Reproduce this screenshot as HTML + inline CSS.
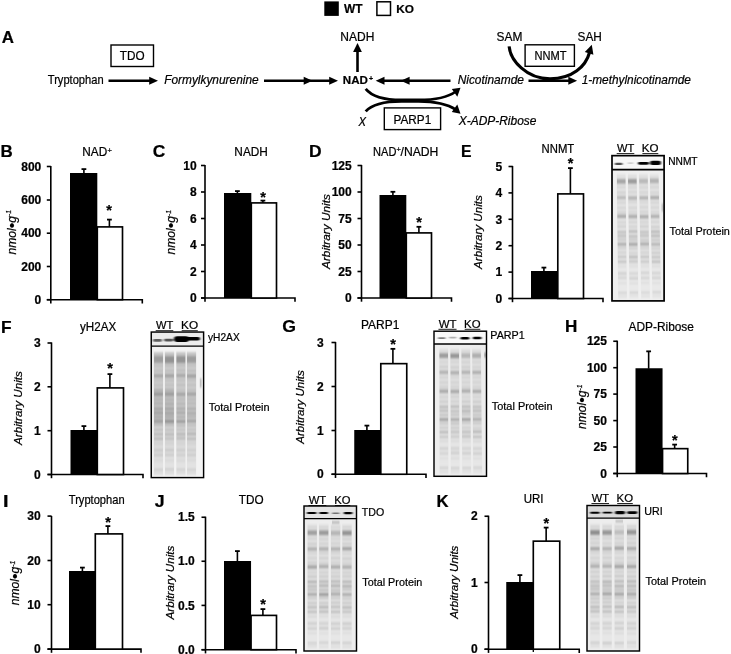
<!DOCTYPE html>
<html><head><meta charset="utf-8"><title>Figure</title>
<style>html,body{margin:0;padding:0;background:#fff}svg{display:block}text{font-family:"Liberation Sans", sans-serif;fill:#000;stroke:#000;stroke-width:0.22px}</style>
</head><body>
<svg width="731" height="654" viewBox="0 0 731 654">
<defs>
<filter id="bl" x="-5%" y="-5%" width="110%" height="110%"><feGaussianBlur stdDeviation="0.6 0.9"/></filter>
<linearGradient id="lg" x1="0" y1="0" x2="0" y2="1"><stop offset="0" stop-color="#000" stop-opacity="1"/><stop offset="0.55" stop-color="#000" stop-opacity="0.85"/><stop offset="1" stop-color="#000" stop-opacity="0.3"/></linearGradient>
<filter id="bl2" x="-20%" y="-50%" width="140%" height="200%"><feGaussianBlur stdDeviation="0.8 0.6"/></filter>
</defs>
<rect width="731" height="654" fill="#fff"/>
<g transform="translate(0.5,0.5)">
<rect x="323.8" y="0.9" width="14.5" height="14.5" fill="#000"/>
<rect x="376.4" y="1.3" width="13.6" height="13.6" fill="#fff" stroke="#000" stroke-width="1.5"/>
<rect x="110.5" y="44.5" width="42.5" height="21.5" fill="#fff" stroke="#000" stroke-width="1.4"/>
<text x="368.4" y="80.6" font-family='"Liberation Sans", sans-serif' font-size="7" font-weight="bold" stroke="none">+</text>
<rect x="524.6" y="44.3" width="49.3" height="21.5" fill="#fff" stroke="#000" stroke-width="1.4"/>
<rect x="383.8" y="107.4" width="56.3" height="21.7" fill="#fff" stroke="#000" stroke-width="1.4"/>
<line x1="108" y1="80.3" x2="151.34" y2="80.3" stroke="#000" stroke-width="2.6"/>
<polygon points="157.5,80.3 148.7,76.25 148.7,84.35" fill="#000"/>
<line x1="263.5" y1="80.3" x2="331.34" y2="80.3" stroke="#000" stroke-width="2.6"/>
<polygon points="312,80.3 303.2,76.25 303.2,84.35" fill="#000"/>
<polygon points="337.5,80.3 328.7,76.25 328.7,84.35" fill="#000"/>
<line x1="450" y1="80.3" x2="381.36" y2="80.3" stroke="#000" stroke-width="2.6"/>
<polygon points="400.3,80.3 409.1,76.25 409.1,84.35" fill="#000"/>
<polygon points="375.2,80.3 384.0,76.25 384.0,84.35" fill="#000"/>
<line x1="528" y1="80.3" x2="570.44" y2="80.3" stroke="#000" stroke-width="2.6"/>
<polygon points="576.6,80.3 567.8000000000001,76.25 567.8000000000001,84.35" fill="#000"/>
<line x1="357" y1="71.5" x2="357" y2="50" stroke="#000" stroke-width="2.6"/>
<polygon points="357,42.6 352.6,51.4 361.4,51.4" fill="#000"/>
<path d="M 365.2,88.4 C 372,97 386,99.5 401,99.5 L 418,99.5 C 434,99.5 447.5,96.8 455.3,91" fill="none" stroke="#000" stroke-width="2.8"/>
<polygon points="460,87.3 451.3,88.6 456.8,96.3" fill="#000"/>
<path d="M 365.2,110.9 C 372,103 386,100.8 401,100.8 L 418,100.8 C 434,100.8 447.5,103.8 455.3,109.2" fill="none" stroke="#000" stroke-width="2.8"/>
<polygon points="460,113.3 451.3,111.6 456.8,104" fill="#000"/>
<path d="M 508.6,45.8 C 510,60 526,78.3 549.5,78.3 C 572,78.3 585.3,66 589.2,51.5" fill="none" stroke="#000" stroke-width="3.1"/>
<polygon points="591.3,44.3 584.3,51.6 592.9,54.2" fill="#000"/>
<path d="M 46.3,299.2 H 141.8 V 302.9" fill="none" stroke="#000" stroke-width="1.6"/>
<line x1="50.3" y1="165.4" x2="50.3" y2="302.9" stroke="#000" stroke-width="1.6"/>
<line x1="46.3" y1="166" x2="50.3" y2="166" stroke="#000" stroke-width="1.6"/>
<text x="40.800000000000004" y="170.2" text-anchor="end" font-family='"Liberation Sans", sans-serif' font-size="12" font-weight="bold" stroke="none">800</text>
<line x1="46.3" y1="199.5" x2="50.3" y2="199.5" stroke="#000" stroke-width="1.6"/>
<text x="40.800000000000004" y="203.7" text-anchor="end" font-family='"Liberation Sans", sans-serif' font-size="12" font-weight="bold" stroke="none">600</text>
<line x1="46.3" y1="232.7" x2="50.3" y2="232.7" stroke="#000" stroke-width="1.6"/>
<text x="40.800000000000004" y="236.89999999999998" text-anchor="end" font-family='"Liberation Sans", sans-serif' font-size="12" font-weight="bold" stroke="none">400</text>
<line x1="46.3" y1="266" x2="50.3" y2="266" stroke="#000" stroke-width="1.6"/>
<text x="40.800000000000004" y="270.2" text-anchor="end" font-family='"Liberation Sans", sans-serif' font-size="12" font-weight="bold" stroke="none">200</text>
<line x1="46.3" y1="299.2" x2="50.3" y2="299.2" stroke="#000" stroke-width="1.6"/>
<text x="40.800000000000004" y="303.4" text-anchor="end" font-family='"Liberation Sans", sans-serif' font-size="12" font-weight="bold" stroke="none">0</text>
<path d="M 83.4,173 V 168.4" fill="none" stroke="#000" stroke-width="1.6"/>
<path d="M 81.0,168.6 H 85.80000000000001" fill="none" stroke="#000" stroke-width="1.8"/>
<path d="M 108.9,227 V 218.9" fill="none" stroke="#000" stroke-width="1.6"/>
<path d="M 106.5,219.1 H 111.30000000000001" fill="none" stroke="#000" stroke-width="1.8"/>
<rect x="69.5" y="172.5" width="27.30" height="126.69999999999999" fill="#000"/>
<rect x="96.8" y="226.40" width="25.20" height="72.80" fill="#fff" stroke="#000" stroke-width="1.65"/>
<text x="108.6" y="214.0" text-anchor="middle" font-family='"Liberation Sans", sans-serif' font-size="14.5" font-weight="bold">*</text>
<text x="107" y="152.1" font-family='"Liberation Sans", sans-serif' font-size="7.5">+</text>
<path d="M 200.5,297.5 H 294.5 V 301.2" fill="none" stroke="#000" stroke-width="1.6"/>
<line x1="204.5" y1="164.4" x2="204.5" y2="301.2" stroke="#000" stroke-width="1.6"/>
<line x1="200.5" y1="165" x2="204.5" y2="165" stroke="#000" stroke-width="1.6"/>
<text x="196.2" y="169.2" text-anchor="end" font-family='"Liberation Sans", sans-serif' font-size="12" font-weight="bold" stroke="none">10</text>
<line x1="200.5" y1="191.5" x2="204.5" y2="191.5" stroke="#000" stroke-width="1.6"/>
<text x="196.2" y="195.7" text-anchor="end" font-family='"Liberation Sans", sans-serif' font-size="12" font-weight="bold" stroke="none">8</text>
<line x1="200.5" y1="218" x2="204.5" y2="218" stroke="#000" stroke-width="1.6"/>
<text x="196.2" y="222.2" text-anchor="end" font-family='"Liberation Sans", sans-serif' font-size="12" font-weight="bold" stroke="none">6</text>
<line x1="200.5" y1="244.5" x2="204.5" y2="244.5" stroke="#000" stroke-width="1.6"/>
<text x="196.2" y="248.7" text-anchor="end" font-family='"Liberation Sans", sans-serif' font-size="12" font-weight="bold" stroke="none">4</text>
<line x1="200.5" y1="271" x2="204.5" y2="271" stroke="#000" stroke-width="1.6"/>
<text x="196.2" y="275.2" text-anchor="end" font-family='"Liberation Sans", sans-serif' font-size="12" font-weight="bold" stroke="none">2</text>
<line x1="200.5" y1="297.5" x2="204.5" y2="297.5" stroke="#000" stroke-width="1.6"/>
<text x="196.2" y="301.7" text-anchor="end" font-family='"Liberation Sans", sans-serif' font-size="12" font-weight="bold" stroke="none">0</text>
<path d="M 236.9,193 V 190.4" fill="none" stroke="#000" stroke-width="1.6"/>
<path d="M 234.5,190.6 H 239.3" fill="none" stroke="#000" stroke-width="1.8"/>
<path d="M 262.4,203 V 199.9" fill="none" stroke="#000" stroke-width="1.6"/>
<path d="M 260.0,200.1 H 264.79999999999995" fill="none" stroke="#000" stroke-width="1.8"/>
<rect x="223.5" y="192.5" width="27.30" height="105.0" fill="#000"/>
<rect x="250.8" y="202.40" width="25.20" height="95.10" fill="#fff" stroke="#000" stroke-width="1.65"/>
<text x="262.6" y="201.5" text-anchor="middle" font-family='"Liberation Sans", sans-serif' font-size="14.5" font-weight="bold">*</text>
<path d="M 357,297.5 H 451 V 301.2" fill="none" stroke="#000" stroke-width="1.6"/>
<line x1="361" y1="164.4" x2="361" y2="301.2" stroke="#000" stroke-width="1.6"/>
<line x1="357" y1="165" x2="361" y2="165" stroke="#000" stroke-width="1.6"/>
<text x="351.2" y="169.2" text-anchor="end" font-family='"Liberation Sans", sans-serif' font-size="12" font-weight="bold" stroke="none">125</text>
<line x1="357" y1="191.5" x2="361" y2="191.5" stroke="#000" stroke-width="1.6"/>
<text x="351.2" y="195.7" text-anchor="end" font-family='"Liberation Sans", sans-serif' font-size="12" font-weight="bold" stroke="none">100</text>
<line x1="357" y1="218" x2="361" y2="218" stroke="#000" stroke-width="1.6"/>
<text x="351.2" y="222.2" text-anchor="end" font-family='"Liberation Sans", sans-serif' font-size="12" font-weight="bold" stroke="none">75</text>
<line x1="357" y1="244.5" x2="361" y2="244.5" stroke="#000" stroke-width="1.6"/>
<text x="351.2" y="248.7" text-anchor="end" font-family='"Liberation Sans", sans-serif' font-size="12" font-weight="bold" stroke="none">50</text>
<line x1="357" y1="271" x2="361" y2="271" stroke="#000" stroke-width="1.6"/>
<text x="351.2" y="275.2" text-anchor="end" font-family='"Liberation Sans", sans-serif' font-size="12" font-weight="bold" stroke="none">25</text>
<line x1="357" y1="297.5" x2="361" y2="297.5" stroke="#000" stroke-width="1.6"/>
<text x="351.2" y="301.7" text-anchor="end" font-family='"Liberation Sans", sans-serif' font-size="12" font-weight="bold" stroke="none">0</text>
<path d="M 392.4,195 V 191.1" fill="none" stroke="#000" stroke-width="1.6"/>
<path d="M 390.0,191.29999999999998 H 394.79999999999995" fill="none" stroke="#000" stroke-width="1.8"/>
<path d="M 418.4,233 V 226.1" fill="none" stroke="#000" stroke-width="1.6"/>
<path d="M 416.0,226.29999999999998 H 420.79999999999995" fill="none" stroke="#000" stroke-width="1.8"/>
<rect x="379.0" y="194.5" width="26.80" height="103.0" fill="#000"/>
<rect x="405.8" y="232.40" width="25.20" height="65.10" fill="#fff" stroke="#000" stroke-width="1.65"/>
<text x="418.6" y="226.3" text-anchor="middle" font-family='"Liberation Sans", sans-serif' font-size="14.5" font-weight="bold">*</text>
<text x="396" y="151.5" font-family='"Liberation Sans", sans-serif' font-size="7.5">+</text>
<path d="M 508,298 H 602.5 V 301.7" fill="none" stroke="#000" stroke-width="1.6"/>
<line x1="512" y1="165.4" x2="512" y2="301.7" stroke="#000" stroke-width="1.6"/>
<line x1="508" y1="166" x2="512" y2="166" stroke="#000" stroke-width="1.6"/>
<text x="501.7" y="170.2" text-anchor="end" font-family='"Liberation Sans", sans-serif' font-size="12" font-weight="bold" stroke="none">5</text>
<line x1="508" y1="192.4" x2="512" y2="192.4" stroke="#000" stroke-width="1.6"/>
<text x="501.7" y="196.6" text-anchor="end" font-family='"Liberation Sans", sans-serif' font-size="12" font-weight="bold" stroke="none">4</text>
<line x1="508" y1="218.8" x2="512" y2="218.8" stroke="#000" stroke-width="1.6"/>
<text x="501.7" y="223.0" text-anchor="end" font-family='"Liberation Sans", sans-serif' font-size="12" font-weight="bold" stroke="none">3</text>
<line x1="508" y1="245.2" x2="512" y2="245.2" stroke="#000" stroke-width="1.6"/>
<text x="501.7" y="249.39999999999998" text-anchor="end" font-family='"Liberation Sans", sans-serif' font-size="12" font-weight="bold" stroke="none">2</text>
<line x1="508" y1="271.6" x2="512" y2="271.6" stroke="#000" stroke-width="1.6"/>
<text x="501.7" y="275.8" text-anchor="end" font-family='"Liberation Sans", sans-serif' font-size="12" font-weight="bold" stroke="none">1</text>
<line x1="508" y1="298" x2="512" y2="298" stroke="#000" stroke-width="1.6"/>
<text x="501.7" y="302.2" text-anchor="end" font-family='"Liberation Sans", sans-serif' font-size="12" font-weight="bold" stroke="none">0</text>
<path d="M 543.4,271 V 266.9" fill="none" stroke="#000" stroke-width="1.6"/>
<path d="M 541.0,267.09999999999997 H 545.8" fill="none" stroke="#000" stroke-width="1.8"/>
<path d="M 569.9,194 V 167.4" fill="none" stroke="#000" stroke-width="1.6"/>
<path d="M 567.5,167.6 H 572.3" fill="none" stroke="#000" stroke-width="1.8"/>
<rect x="530.5" y="270.5" width="26.80" height="27.5" fill="#000"/>
<rect x="557.3" y="193.40" width="25.70" height="104.60" fill="#fff" stroke="#000" stroke-width="1.65"/>
<text x="570.1" y="167.0" text-anchor="middle" font-family='"Liberation Sans", sans-serif' font-size="14.5" font-weight="bold">*</text>
<path d="M 47,474 H 142.5 V 477.7" fill="none" stroke="#000" stroke-width="1.6"/>
<line x1="51" y1="341.9" x2="51" y2="477.7" stroke="#000" stroke-width="1.6"/>
<line x1="47" y1="342.5" x2="51" y2="342.5" stroke="#000" stroke-width="1.6"/>
<text x="40.2" y="346.7" text-anchor="end" font-family='"Liberation Sans", sans-serif' font-size="12" font-weight="bold" stroke="none">3</text>
<line x1="47" y1="386.3" x2="51" y2="386.3" stroke="#000" stroke-width="1.6"/>
<text x="40.2" y="390.5" text-anchor="end" font-family='"Liberation Sans", sans-serif' font-size="12" font-weight="bold" stroke="none">2</text>
<line x1="47" y1="430.2" x2="51" y2="430.2" stroke="#000" stroke-width="1.6"/>
<text x="40.2" y="434.4" text-anchor="end" font-family='"Liberation Sans", sans-serif' font-size="12" font-weight="bold" stroke="none">1</text>
<line x1="47" y1="474" x2="51" y2="474" stroke="#000" stroke-width="1.6"/>
<text x="40.2" y="478.2" text-anchor="end" font-family='"Liberation Sans", sans-serif' font-size="12" font-weight="bold" stroke="none">0</text>
<path d="M 83.4,430 V 425.4" fill="none" stroke="#000" stroke-width="1.6"/>
<path d="M 81.0,425.59999999999997 H 85.80000000000001" fill="none" stroke="#000" stroke-width="1.8"/>
<path d="M 109.4,388 V 373.4" fill="none" stroke="#000" stroke-width="1.6"/>
<path d="M 107.0,373.59999999999997 H 111.80000000000001" fill="none" stroke="#000" stroke-width="1.8"/>
<rect x="70.0" y="429.5" width="26.80" height="44.5" fill="#000"/>
<rect x="96.8" y="387.40" width="26.20" height="86.60" fill="#fff" stroke="#000" stroke-width="1.65"/>
<text x="109.6" y="372.0" text-anchor="middle" font-family='"Liberation Sans", sans-serif' font-size="14.5" font-weight="bold">*</text>
<path d="M 331,473.75 H 425.5 V 477.45" fill="none" stroke="#000" stroke-width="1.6"/>
<line x1="335" y1="341.4" x2="335" y2="477.45" stroke="#000" stroke-width="1.6"/>
<line x1="331" y1="342" x2="335" y2="342" stroke="#000" stroke-width="1.6"/>
<text x="323.2" y="346.2" text-anchor="end" font-family='"Liberation Sans", sans-serif' font-size="12" font-weight="bold" stroke="none">3</text>
<line x1="331" y1="386" x2="335" y2="386" stroke="#000" stroke-width="1.6"/>
<text x="323.2" y="390.2" text-anchor="end" font-family='"Liberation Sans", sans-serif' font-size="12" font-weight="bold" stroke="none">2</text>
<line x1="331" y1="430" x2="335" y2="430" stroke="#000" stroke-width="1.6"/>
<text x="323.2" y="434.2" text-anchor="end" font-family='"Liberation Sans", sans-serif' font-size="12" font-weight="bold" stroke="none">1</text>
<line x1="331" y1="473.75" x2="335" y2="473.75" stroke="#000" stroke-width="1.6"/>
<text x="323.2" y="477.95" text-anchor="end" font-family='"Liberation Sans", sans-serif' font-size="12" font-weight="bold" stroke="none">0</text>
<path d="M 366.4,430 V 424.9" fill="none" stroke="#000" stroke-width="1.6"/>
<path d="M 364.0,425.09999999999997 H 368.79999999999995" fill="none" stroke="#000" stroke-width="1.8"/>
<path d="M 392.4,363.75 V 348.15" fill="none" stroke="#000" stroke-width="1.6"/>
<path d="M 390.0,348.34999999999997 H 394.79999999999995" fill="none" stroke="#000" stroke-width="1.8"/>
<rect x="353.75" y="429.5" width="26.55" height="44.25" fill="#000"/>
<rect x="380.3" y="363.15" width="25.95" height="110.60" fill="#fff" stroke="#000" stroke-width="1.65"/>
<text x="392.6" y="348.0" text-anchor="middle" font-family='"Liberation Sans", sans-serif' font-size="14.5" font-weight="bold">*</text>
<path d="M 612.75,473 H 706 V 476.7" fill="none" stroke="#000" stroke-width="1.6"/>
<line x1="616.75" y1="340.15" x2="616.75" y2="476.7" stroke="#000" stroke-width="1.6"/>
<line x1="612.75" y1="340.75" x2="616.75" y2="340.75" stroke="#000" stroke-width="1.6"/>
<text x="606.45" y="344.95" text-anchor="end" font-family='"Liberation Sans", sans-serif' font-size="12" font-weight="bold" stroke="none">125</text>
<line x1="612.75" y1="367.2" x2="616.75" y2="367.2" stroke="#000" stroke-width="1.6"/>
<text x="606.45" y="371.4" text-anchor="end" font-family='"Liberation Sans", sans-serif' font-size="12" font-weight="bold" stroke="none">100</text>
<line x1="612.75" y1="393.6" x2="616.75" y2="393.6" stroke="#000" stroke-width="1.6"/>
<text x="606.45" y="397.8" text-anchor="end" font-family='"Liberation Sans", sans-serif' font-size="12" font-weight="bold" stroke="none">75</text>
<line x1="612.75" y1="420.1" x2="616.75" y2="420.1" stroke="#000" stroke-width="1.6"/>
<text x="606.45" y="424.3" text-anchor="end" font-family='"Liberation Sans", sans-serif' font-size="12" font-weight="bold" stroke="none">50</text>
<line x1="612.75" y1="446.5" x2="616.75" y2="446.5" stroke="#000" stroke-width="1.6"/>
<text x="606.45" y="450.7" text-anchor="end" font-family='"Liberation Sans", sans-serif' font-size="12" font-weight="bold" stroke="none">25</text>
<line x1="612.75" y1="473" x2="616.75" y2="473" stroke="#000" stroke-width="1.6"/>
<text x="606.45" y="477.2" text-anchor="end" font-family='"Liberation Sans", sans-serif' font-size="12" font-weight="bold" stroke="none">0</text>
<path d="M 648.15,368.25 V 350.65" fill="none" stroke="#000" stroke-width="1.6"/>
<path d="M 645.75,350.84999999999997 H 650.55" fill="none" stroke="#000" stroke-width="1.8"/>
<path d="M 674.15,448.75 V 443.9" fill="none" stroke="#000" stroke-width="1.6"/>
<path d="M 671.75,444.09999999999997 H 676.55" fill="none" stroke="#000" stroke-width="1.8"/>
<rect x="635.0" y="367.75" width="27.05" height="105.25" fill="#000"/>
<rect x="662.05" y="448.15" width="25.20" height="24.85" fill="#fff" stroke="#000" stroke-width="1.65"/>
<text x="674.35" y="444.75" text-anchor="middle" font-family='"Liberation Sans", sans-serif' font-size="14.5" font-weight="bold">*</text>
<path d="M 47,648.6 H 140.5 V 652.3000000000001" fill="none" stroke="#000" stroke-width="1.6"/>
<line x1="51" y1="515.4" x2="51" y2="652.3000000000001" stroke="#000" stroke-width="1.6"/>
<line x1="47" y1="515.6" x2="51" y2="515.6" stroke="#000" stroke-width="1.6"/>
<text x="40.2" y="519.8000000000001" text-anchor="end" font-family='"Liberation Sans", sans-serif' font-size="12" font-weight="bold" stroke="none">30</text>
<line x1="47" y1="560" x2="51" y2="560" stroke="#000" stroke-width="1.6"/>
<text x="40.2" y="564.2" text-anchor="end" font-family='"Liberation Sans", sans-serif' font-size="12" font-weight="bold" stroke="none">20</text>
<line x1="47" y1="604.2" x2="51" y2="604.2" stroke="#000" stroke-width="1.6"/>
<text x="40.2" y="608.4000000000001" text-anchor="end" font-family='"Liberation Sans", sans-serif' font-size="12" font-weight="bold" stroke="none">10</text>
<line x1="47" y1="648.6" x2="51" y2="648.6" stroke="#000" stroke-width="1.6"/>
<text x="40.2" y="652.8000000000001" text-anchor="end" font-family='"Liberation Sans", sans-serif' font-size="12" font-weight="bold" stroke="none">0</text>
<path d="M 81.9,571 V 566.9" fill="none" stroke="#000" stroke-width="1.6"/>
<path d="M 79.5,567.1 H 84.30000000000001" fill="none" stroke="#000" stroke-width="1.8"/>
<path d="M 107.4,534 V 525.4" fill="none" stroke="#000" stroke-width="1.6"/>
<path d="M 105.0,525.6 H 109.80000000000001" fill="none" stroke="#000" stroke-width="1.8"/>
<rect x="68.5" y="570.5" width="26.30" height="78.10000000000002" fill="#000"/>
<rect x="94.8" y="533.40" width="27.20" height="115.20" fill="#fff" stroke="#000" stroke-width="1.65"/>
<text x="107.6" y="526.5" text-anchor="middle" font-family='"Liberation Sans", sans-serif' font-size="14.5" font-weight="bold">*</text>
<path d="M 201,649.2 H 295.5 V 652.9000000000001" fill="none" stroke="#000" stroke-width="1.6"/>
<line x1="205" y1="516.15" x2="205" y2="652.9000000000001" stroke="#000" stroke-width="1.6"/>
<line x1="201" y1="516.75" x2="205" y2="516.75" stroke="#000" stroke-width="1.6"/>
<text x="194.2" y="520.95" text-anchor="end" font-family='"Liberation Sans", sans-serif' font-size="12" font-weight="bold" stroke="none">1.5</text>
<line x1="201" y1="560.75" x2="205" y2="560.75" stroke="#000" stroke-width="1.6"/>
<text x="194.2" y="564.95" text-anchor="end" font-family='"Liberation Sans", sans-serif' font-size="12" font-weight="bold" stroke="none">1.0</text>
<line x1="201" y1="604.9" x2="205" y2="604.9" stroke="#000" stroke-width="1.6"/>
<text x="194.2" y="609.1" text-anchor="end" font-family='"Liberation Sans", sans-serif' font-size="12" font-weight="bold" stroke="none">0.5</text>
<line x1="201" y1="649.2" x2="205" y2="649.2" stroke="#000" stroke-width="1.6"/>
<text x="194.2" y="653.4000000000001" text-anchor="end" font-family='"Liberation Sans", sans-serif' font-size="12" font-weight="bold" stroke="none">0.0</text>
<path d="M 236.9,561 V 550.4" fill="none" stroke="#000" stroke-width="1.6"/>
<path d="M 234.5,550.6 H 239.3" fill="none" stroke="#000" stroke-width="1.8"/>
<path d="M 262.4,615.5 V 608.4" fill="none" stroke="#000" stroke-width="1.6"/>
<path d="M 260.0,608.6 H 264.79999999999995" fill="none" stroke="#000" stroke-width="1.8"/>
<rect x="223.5" y="560.5" width="27.05" height="88.70000000000005" fill="#000"/>
<rect x="250.55" y="614.90" width="25.45" height="34.30" fill="#fff" stroke="#000" stroke-width="1.65"/>
<text x="262.6" y="608.5" text-anchor="middle" font-family='"Liberation Sans", sans-serif' font-size="14.5" font-weight="bold">*</text>
<path d="M 484,648.7 H 578.75 V 652.4000000000001" fill="none" stroke="#000" stroke-width="1.6"/>
<line x1="488" y1="515.15" x2="488" y2="652.4000000000001" stroke="#000" stroke-width="1.6"/>
<line x1="484" y1="515.75" x2="488" y2="515.75" stroke="#000" stroke-width="1.6"/>
<text x="477.2" y="519.95" text-anchor="end" font-family='"Liberation Sans", sans-serif' font-size="12" font-weight="bold" stroke="none">2</text>
<line x1="484" y1="582" x2="488" y2="582" stroke="#000" stroke-width="1.6"/>
<text x="477.2" y="586.2" text-anchor="end" font-family='"Liberation Sans", sans-serif' font-size="12" font-weight="bold" stroke="none">1</text>
<line x1="484" y1="648.7" x2="488" y2="648.7" stroke="#000" stroke-width="1.6"/>
<text x="477.2" y="652.9000000000001" text-anchor="end" font-family='"Liberation Sans", sans-serif' font-size="12" font-weight="bold" stroke="none">0</text>
<path d="M 519.4,582 V 574.4" fill="none" stroke="#000" stroke-width="1.6"/>
<path d="M 517.0,574.6 H 521.8" fill="none" stroke="#000" stroke-width="1.8"/>
<path d="M 545.65,541.25 V 526.9" fill="none" stroke="#000" stroke-width="1.6"/>
<path d="M 543.25,527.1 H 548.05" fill="none" stroke="#000" stroke-width="1.8"/>
<rect x="505.75" y="581.5" width="27.05" height="67.20000000000005" fill="#000"/>
<rect x="532.8" y="540.65" width="26.45" height="108.05" fill="#fff" stroke="#000" stroke-width="1.65"/>
<text x="545.85" y="527.75" text-anchor="middle" font-family='"Liberation Sans", sans-serif' font-size="14.5" font-weight="bold">*</text>
<line x1="532.8" y1="648.7" x2="532.8" y2="651.5" stroke="#000" stroke-width="1.3"/>
<g>
<rect x="611.5" y="155.15" width="52.10000000000002" height="145.24999999999997" fill="#efefef"/>
<rect x="611.5" y="155.15" width="52.10000000000002" height="13.949999999999989" fill="#f7f7f7"/>
<g filter="url(#bl)">
<g transform="translate(620.6,169.1) skewX(0.655) translate(-620.6,-169.1)">
<rect x="616.1" y="175.1" width="9.0" height="123.29999999999998" fill="url(#lg)" opacity="0.056"/>
<rect x="616.30" y="173.99" width="8.60" height="1.6" fill="#000" opacity="0.064"/>
<rect x="616.30" y="178.41" width="8.60" height="4.8" fill="#000" opacity="0.267"/>
<rect x="616.30" y="186.02" width="8.60" height="1.6" fill="#000" opacity="0.082"/>
<rect x="616.30" y="191.37" width="8.60" height="1.6" fill="#000" opacity="0.106"/>
<rect x="616.30" y="195.39" width="8.60" height="3.4" fill="#000" opacity="0.185"/>
<rect x="616.30" y="201.33" width="8.60" height="1.6" fill="#000" opacity="0.081"/>
<rect x="616.30" y="206.53" width="8.60" height="1.6" fill="#000" opacity="0.083"/>
<rect x="616.30" y="210.94" width="8.60" height="1.6" fill="#000" opacity="0.104"/>
<rect x="616.30" y="214.11" width="8.60" height="3.4" fill="#000" opacity="0.253"/>
<rect x="616.30" y="221.06" width="8.60" height="1.6" fill="#000" opacity="0.084"/>
<rect x="616.30" y="225.13" width="8.60" height="1.6" fill="#000" opacity="0.134"/>
<rect x="616.30" y="230.40" width="8.60" height="2.4" fill="#000" opacity="0.174"/>
<rect x="616.30" y="234.17" width="8.60" height="2.4" fill="#000" opacity="0.183"/>
<rect x="616.30" y="237.96" width="8.60" height="2.2" fill="#000" opacity="0.132"/>
<rect x="616.30" y="242.27" width="8.60" height="3.0" fill="#000" opacity="0.244"/>
<rect x="616.30" y="246.92" width="8.60" height="1.6" fill="#000" opacity="0.137"/>
<rect x="616.30" y="251.24" width="8.60" height="1.6" fill="#000" opacity="0.131"/>
<rect x="616.30" y="255.22" width="8.60" height="2.4" fill="#000" opacity="0.152"/>
<rect x="616.30" y="260.01" width="8.60" height="2.4" fill="#000" opacity="0.153"/>
<rect x="616.30" y="264.89" width="8.60" height="1.6" fill="#000" opacity="0.056"/>
<rect x="616.30" y="271.79" width="8.60" height="2.4" fill="#000" opacity="0.114"/>
<rect x="616.30" y="276.13" width="8.60" height="2.4" fill="#000" opacity="0.097"/>
<rect x="616.30" y="282.01" width="8.60" height="1.6" fill="#000" opacity="0.066"/>
<rect x="616.30" y="291.16" width="8.60" height="2.2" fill="#000" opacity="0.110"/>
<rect x="616.30" y="295.07" width="8.60" height="1.6" fill="#000" opacity="0.065"/>
</g>
<g transform="translate(631.7,169.1) skewX(0.785) translate(-631.7,-169.1)">
<rect x="627.2" y="175.1" width="9.0" height="123.29999999999998" fill="url(#lg)" opacity="0.056"/>
<rect x="627.40" y="174.09" width="8.60" height="1.6" fill="#000" opacity="0.060"/>
<rect x="627.40" y="178.48" width="8.60" height="4.8" fill="#000" opacity="0.318"/>
<rect x="627.40" y="186.03" width="8.60" height="1.6" fill="#000" opacity="0.085"/>
<rect x="627.40" y="191.00" width="8.60" height="1.6" fill="#000" opacity="0.090"/>
<rect x="627.40" y="195.81" width="8.60" height="3.4" fill="#000" opacity="0.210"/>
<rect x="627.40" y="200.93" width="8.60" height="1.6" fill="#000" opacity="0.084"/>
<rect x="627.40" y="206.50" width="8.60" height="1.6" fill="#000" opacity="0.102"/>
<rect x="627.40" y="210.90" width="8.60" height="1.6" fill="#000" opacity="0.095"/>
<rect x="627.40" y="214.28" width="8.60" height="3.4" fill="#000" opacity="0.242"/>
<rect x="627.40" y="220.83" width="8.60" height="1.6" fill="#000" opacity="0.094"/>
<rect x="627.40" y="225.41" width="8.60" height="1.6" fill="#000" opacity="0.114"/>
<rect x="627.40" y="229.86" width="8.60" height="2.4" fill="#000" opacity="0.191"/>
<rect x="627.40" y="234.63" width="8.60" height="2.4" fill="#000" opacity="0.192"/>
<rect x="627.40" y="238.18" width="8.60" height="2.2" fill="#000" opacity="0.130"/>
<rect x="627.40" y="242.31" width="8.60" height="3.0" fill="#000" opacity="0.280"/>
<rect x="627.40" y="247.24" width="8.60" height="1.6" fill="#000" opacity="0.151"/>
<rect x="627.40" y="251.63" width="8.60" height="1.6" fill="#000" opacity="0.122"/>
<rect x="627.40" y="255.35" width="8.60" height="2.4" fill="#000" opacity="0.202"/>
<rect x="627.40" y="259.86" width="8.60" height="2.4" fill="#000" opacity="0.149"/>
<rect x="627.40" y="264.67" width="8.60" height="1.6" fill="#000" opacity="0.063"/>
<rect x="627.40" y="271.77" width="8.60" height="2.4" fill="#000" opacity="0.087"/>
<rect x="627.40" y="276.52" width="8.60" height="2.4" fill="#000" opacity="0.112"/>
<rect x="627.40" y="282.11" width="8.60" height="1.6" fill="#000" opacity="0.067"/>
<rect x="627.40" y="291.08" width="8.60" height="2.2" fill="#000" opacity="0.113"/>
<rect x="627.40" y="294.91" width="8.60" height="1.6" fill="#000" opacity="0.061"/>
</g>
<g transform="translate(642.8,169.1) skewX(1.004) translate(-642.8,-169.1)">
<rect x="638.3" y="175.1" width="9.0" height="123.29999999999998" fill="url(#lg)" opacity="0.056"/>
<rect x="638.50" y="173.94" width="8.60" height="1.6" fill="#000" opacity="0.065"/>
<rect x="638.50" y="178.30" width="8.60" height="4.8" fill="#000" opacity="0.183"/>
<rect x="638.50" y="186.03" width="8.60" height="1.6" fill="#000" opacity="0.082"/>
<rect x="638.50" y="191.19" width="8.60" height="1.6" fill="#000" opacity="0.093"/>
<rect x="638.50" y="195.65" width="8.60" height="3.4" fill="#000" opacity="0.224"/>
<rect x="638.50" y="201.19" width="8.60" height="1.6" fill="#000" opacity="0.082"/>
<rect x="638.50" y="206.09" width="8.60" height="1.6" fill="#000" opacity="0.089"/>
<rect x="638.50" y="210.78" width="8.60" height="1.6" fill="#000" opacity="0.100"/>
<rect x="638.50" y="214.49" width="8.60" height="3.4" fill="#000" opacity="0.243"/>
<rect x="638.50" y="221.00" width="8.60" height="1.6" fill="#000" opacity="0.106"/>
<rect x="638.50" y="225.27" width="8.60" height="1.6" fill="#000" opacity="0.146"/>
<rect x="638.50" y="230.24" width="8.60" height="2.4" fill="#000" opacity="0.157"/>
<rect x="638.50" y="234.05" width="8.60" height="2.4" fill="#000" opacity="0.160"/>
<rect x="638.50" y="238.40" width="8.60" height="2.2" fill="#000" opacity="0.133"/>
<rect x="638.50" y="242.08" width="8.60" height="3.0" fill="#000" opacity="0.254"/>
<rect x="638.50" y="246.99" width="8.60" height="1.6" fill="#000" opacity="0.130"/>
<rect x="638.50" y="251.21" width="8.60" height="1.6" fill="#000" opacity="0.134"/>
<rect x="638.50" y="255.15" width="8.60" height="2.4" fill="#000" opacity="0.166"/>
<rect x="638.50" y="259.94" width="8.60" height="2.4" fill="#000" opacity="0.148"/>
<rect x="638.50" y="264.70" width="8.60" height="1.6" fill="#000" opacity="0.062"/>
<rect x="638.50" y="271.21" width="8.60" height="2.4" fill="#000" opacity="0.099"/>
<rect x="638.50" y="276.31" width="8.60" height="2.4" fill="#000" opacity="0.093"/>
<rect x="638.50" y="281.64" width="8.60" height="1.6" fill="#000" opacity="0.070"/>
<rect x="638.50" y="290.90" width="8.60" height="2.2" fill="#000" opacity="0.103"/>
<rect x="638.50" y="294.94" width="8.60" height="1.6" fill="#000" opacity="0.068"/>
</g>
<g transform="translate(653.6,169.1) skewX(1.222) translate(-653.6,-169.1)">
<rect x="649.1" y="175.1" width="9.0" height="123.29999999999998" fill="url(#lg)" opacity="0.056"/>
<rect x="649.30" y="173.92" width="8.60" height="1.6" fill="#000" opacity="0.050"/>
<rect x="649.30" y="178.04" width="8.60" height="4.8" fill="#000" opacity="0.215"/>
<rect x="649.30" y="185.82" width="8.60" height="1.6" fill="#000" opacity="0.088"/>
<rect x="649.30" y="191.38" width="8.60" height="1.6" fill="#000" opacity="0.099"/>
<rect x="649.30" y="195.46" width="8.60" height="3.4" fill="#000" opacity="0.247"/>
<rect x="649.30" y="201.30" width="8.60" height="1.6" fill="#000" opacity="0.083"/>
<rect x="649.30" y="206.21" width="8.60" height="1.6" fill="#000" opacity="0.102"/>
<rect x="649.30" y="210.91" width="8.60" height="1.6" fill="#000" opacity="0.099"/>
<rect x="649.30" y="214.17" width="8.60" height="3.4" fill="#000" opacity="0.232"/>
<rect x="649.30" y="220.56" width="8.60" height="1.6" fill="#000" opacity="0.091"/>
<rect x="649.30" y="225.70" width="8.60" height="1.6" fill="#000" opacity="0.147"/>
<rect x="649.30" y="230.02" width="8.60" height="2.4" fill="#000" opacity="0.199"/>
<rect x="649.30" y="234.22" width="8.60" height="2.4" fill="#000" opacity="0.212"/>
<rect x="649.30" y="238.39" width="8.60" height="2.2" fill="#000" opacity="0.140"/>
<rect x="649.30" y="242.16" width="8.60" height="3.0" fill="#000" opacity="0.209"/>
<rect x="649.30" y="247.31" width="8.60" height="1.6" fill="#000" opacity="0.128"/>
<rect x="649.30" y="251.60" width="8.60" height="1.6" fill="#000" opacity="0.151"/>
<rect x="649.30" y="255.39" width="8.60" height="2.4" fill="#000" opacity="0.160"/>
<rect x="649.30" y="260.03" width="8.60" height="2.4" fill="#000" opacity="0.172"/>
<rect x="649.30" y="264.93" width="8.60" height="1.6" fill="#000" opacity="0.062"/>
<rect x="649.30" y="271.42" width="8.60" height="2.4" fill="#000" opacity="0.098"/>
<rect x="649.30" y="276.18" width="8.60" height="2.4" fill="#000" opacity="0.108"/>
<rect x="649.30" y="281.83" width="8.60" height="1.6" fill="#000" opacity="0.056"/>
<rect x="649.30" y="290.66" width="8.60" height="2.2" fill="#000" opacity="0.118"/>
<rect x="649.30" y="294.75" width="8.60" height="1.6" fill="#000" opacity="0.062"/>
</g>
<rect x="661" y="203" width="1.6" height="8" fill="#000" opacity="0.18"/>
</g>
<g filter="url(#bl2)">
<rect x="614.3" y="162.3" width="7.800000000000068" height="2.2" rx="1.1" fill="#000" opacity="0.68"/>
<rect x="627" y="161.7" width="6" height="1.8" rx="0.9" fill="#000" opacity="0.16"/>
<rect x="637.5" y="161.4" width="11.0" height="2.8" rx="1.4" fill="#000" opacity="1.0"/>
<rect x="649.5" y="160.3" width="11.0" height="4.2" rx="2.1" fill="#000" opacity="1.0"/>
</g>
<rect x="611.5" y="155.15" width="52.10000000000002" height="145.24999999999997" fill="none" stroke="#000" stroke-width="1.7"/>
<line x1="611.5" y1="169.1" x2="663.6" y2="169.1" stroke="#000" stroke-width="1.55"/>
</g>
<g>
<rect x="150.75" y="331.55" width="52.349999999999994" height="145.55" fill="#f3f3f3"/>
<rect x="150.75" y="331.55" width="52.349999999999994" height="14.050000000000011" fill="#ececec"/>
<g filter="url(#bl)">
<g transform="translate(158.0,345.6) skewX(0.000) translate(-158.0,-345.6)">
<rect x="153.35" y="351.6" width="9.3" height="123.5" fill="url(#lg)" opacity="0.175"/>
<rect x="153.55" y="353.16" width="8.90" height="1.6" fill="#000" opacity="0.057"/>
<rect x="153.55" y="355.39" width="8.90" height="7.0" fill="#000" opacity="0.217"/>
<rect x="153.55" y="364.53" width="8.90" height="1.6" fill="#000" opacity="0.076"/>
<rect x="153.55" y="369.51" width="8.90" height="1.6" fill="#000" opacity="0.079"/>
<rect x="153.55" y="373.66" width="8.90" height="3.4" fill="#000" opacity="0.192"/>
<rect x="153.55" y="378.99" width="8.90" height="1.6" fill="#000" opacity="0.064"/>
<rect x="153.55" y="383.99" width="8.90" height="1.6" fill="#000" opacity="0.081"/>
<rect x="153.55" y="388.61" width="8.90" height="1.6" fill="#000" opacity="0.096"/>
<rect x="153.55" y="391.92" width="8.90" height="3.4" fill="#000" opacity="0.195"/>
<rect x="153.55" y="397.98" width="8.90" height="1.6" fill="#000" opacity="0.078"/>
<rect x="153.55" y="402.18" width="8.90" height="1.6" fill="#000" opacity="0.098"/>
<rect x="153.55" y="407.10" width="8.90" height="2.4" fill="#000" opacity="0.147"/>
<rect x="153.55" y="411.26" width="8.90" height="2.4" fill="#000" opacity="0.180"/>
<rect x="153.55" y="415.26" width="8.90" height="2.2" fill="#000" opacity="0.126"/>
<rect x="153.55" y="419.16" width="8.90" height="3.0" fill="#000" opacity="0.181"/>
<rect x="153.55" y="423.99" width="8.90" height="1.6" fill="#000" opacity="0.114"/>
<rect x="153.55" y="428.44" width="8.90" height="1.6" fill="#000" opacity="0.131"/>
<rect x="153.55" y="432.48" width="8.90" height="2.4" fill="#000" opacity="0.139"/>
<rect x="153.55" y="437.08" width="8.90" height="2.4" fill="#000" opacity="0.141"/>
<rect x="153.55" y="441.99" width="8.90" height="1.6" fill="#000" opacity="0.060"/>
<rect x="153.55" y="448.71" width="8.90" height="2.4" fill="#000" opacity="0.096"/>
<rect x="153.55" y="453.33" width="8.90" height="2.4" fill="#000" opacity="0.101"/>
<rect x="153.55" y="459.22" width="8.90" height="1.6" fill="#000" opacity="0.048"/>
<rect x="153.55" y="468.13" width="8.90" height="2.2" fill="#000" opacity="0.103"/>
<rect x="153.55" y="471.94" width="8.90" height="1.6" fill="#000" opacity="0.054"/>
</g>
<g transform="translate(169.0,345.6) skewX(0.000) translate(-169.0,-345.6)">
<rect x="164.35" y="351.6" width="9.3" height="123.5" fill="url(#lg)" opacity="0.175"/>
<rect x="164.55" y="352.88" width="8.90" height="1.6" fill="#000" opacity="0.057"/>
<rect x="164.55" y="355.65" width="8.90" height="7.0" fill="#000" opacity="0.273"/>
<rect x="164.55" y="364.24" width="8.90" height="1.6" fill="#000" opacity="0.079"/>
<rect x="164.55" y="369.65" width="8.90" height="1.6" fill="#000" opacity="0.083"/>
<rect x="164.55" y="373.64" width="8.90" height="3.4" fill="#000" opacity="0.209"/>
<rect x="164.55" y="379.08" width="8.90" height="1.6" fill="#000" opacity="0.071"/>
<rect x="164.55" y="383.86" width="8.90" height="1.6" fill="#000" opacity="0.079"/>
<rect x="164.55" y="388.60" width="8.90" height="1.6" fill="#000" opacity="0.075"/>
<rect x="164.55" y="391.89" width="8.90" height="3.4" fill="#000" opacity="0.179"/>
<rect x="164.55" y="398.26" width="8.90" height="1.6" fill="#000" opacity="0.079"/>
<rect x="164.55" y="402.74" width="8.90" height="1.6" fill="#000" opacity="0.121"/>
<rect x="164.55" y="407.13" width="8.90" height="2.4" fill="#000" opacity="0.156"/>
<rect x="164.55" y="411.42" width="8.90" height="2.4" fill="#000" opacity="0.165"/>
<rect x="164.55" y="415.13" width="8.90" height="2.2" fill="#000" opacity="0.113"/>
<rect x="164.55" y="419.33" width="8.90" height="3.0" fill="#000" opacity="0.238"/>
<rect x="164.55" y="424.17" width="8.90" height="1.6" fill="#000" opacity="0.112"/>
<rect x="164.55" y="428.63" width="8.90" height="1.6" fill="#000" opacity="0.122"/>
<rect x="164.55" y="432.62" width="8.90" height="2.4" fill="#000" opacity="0.139"/>
<rect x="164.55" y="436.99" width="8.90" height="2.4" fill="#000" opacity="0.112"/>
<rect x="164.55" y="441.94" width="8.90" height="1.6" fill="#000" opacity="0.050"/>
<rect x="164.55" y="448.38" width="8.90" height="2.4" fill="#000" opacity="0.098"/>
<rect x="164.55" y="453.18" width="8.90" height="2.4" fill="#000" opacity="0.089"/>
<rect x="164.55" y="459.15" width="8.90" height="1.6" fill="#000" opacity="0.049"/>
<rect x="164.55" y="467.80" width="8.90" height="2.2" fill="#000" opacity="0.108"/>
<rect x="164.55" y="471.91" width="8.90" height="1.6" fill="#000" opacity="0.057"/>
</g>
<g transform="translate(180.4,345.6) skewX(0.000) translate(-180.4,-345.6)">
<rect x="175.75" y="351.6" width="9.3" height="123.5" fill="url(#lg)" opacity="0.175"/>
<rect x="175.95" y="352.61" width="8.90" height="1.6" fill="#000" opacity="0.048"/>
<rect x="175.95" y="355.46" width="8.90" height="7.0" fill="#000" opacity="0.261"/>
<rect x="175.95" y="364.08" width="8.90" height="1.6" fill="#000" opacity="0.081"/>
<rect x="175.95" y="369.13" width="8.90" height="1.6" fill="#000" opacity="0.089"/>
<rect x="175.95" y="373.31" width="8.90" height="3.4" fill="#000" opacity="0.172"/>
<rect x="175.95" y="379.13" width="8.90" height="1.6" fill="#000" opacity="0.064"/>
<rect x="175.95" y="383.84" width="8.90" height="1.6" fill="#000" opacity="0.089"/>
<rect x="175.95" y="388.41" width="8.90" height="1.6" fill="#000" opacity="0.072"/>
<rect x="175.95" y="391.94" width="8.90" height="3.4" fill="#000" opacity="0.172"/>
<rect x="175.95" y="397.74" width="8.90" height="1.6" fill="#000" opacity="0.080"/>
<rect x="175.95" y="402.53" width="8.90" height="1.6" fill="#000" opacity="0.122"/>
<rect x="175.95" y="406.89" width="8.90" height="2.4" fill="#000" opacity="0.147"/>
<rect x="175.95" y="411.05" width="8.90" height="2.4" fill="#000" opacity="0.159"/>
<rect x="175.95" y="415.41" width="8.90" height="2.2" fill="#000" opacity="0.133"/>
<rect x="175.95" y="419.56" width="8.90" height="3.0" fill="#000" opacity="0.227"/>
<rect x="175.95" y="424.31" width="8.90" height="1.6" fill="#000" opacity="0.136"/>
<rect x="175.95" y="428.42" width="8.90" height="1.6" fill="#000" opacity="0.105"/>
<rect x="175.95" y="432.47" width="8.90" height="2.4" fill="#000" opacity="0.145"/>
<rect x="175.95" y="436.61" width="8.90" height="2.4" fill="#000" opacity="0.128"/>
<rect x="175.95" y="442.07" width="8.90" height="1.6" fill="#000" opacity="0.047"/>
<rect x="175.95" y="448.60" width="8.90" height="2.4" fill="#000" opacity="0.086"/>
<rect x="175.95" y="453.42" width="8.90" height="2.4" fill="#000" opacity="0.079"/>
<rect x="175.95" y="459.22" width="8.90" height="1.6" fill="#000" opacity="0.050"/>
<rect x="175.95" y="468.04" width="8.90" height="2.2" fill="#000" opacity="0.095"/>
<rect x="175.95" y="471.67" width="8.90" height="1.6" fill="#000" opacity="0.054"/>
</g>
<g transform="translate(191.0,345.6) skewX(0.000) translate(-191.0,-345.6)">
<rect x="186.35" y="351.6" width="9.3" height="123.5" fill="url(#lg)" opacity="0.175"/>
<rect x="186.55" y="352.67" width="8.90" height="1.6" fill="#000" opacity="0.044"/>
<rect x="186.55" y="355.37" width="8.90" height="7.0" fill="#000" opacity="0.223"/>
<rect x="186.55" y="364.09" width="8.90" height="1.6" fill="#000" opacity="0.074"/>
<rect x="186.55" y="369.42" width="8.90" height="1.6" fill="#000" opacity="0.096"/>
<rect x="186.55" y="373.86" width="8.90" height="3.4" fill="#000" opacity="0.214"/>
<rect x="186.55" y="378.79" width="8.90" height="1.6" fill="#000" opacity="0.070"/>
<rect x="186.55" y="383.88" width="8.90" height="1.6" fill="#000" opacity="0.086"/>
<rect x="186.55" y="388.55" width="8.90" height="1.6" fill="#000" opacity="0.091"/>
<rect x="186.55" y="391.77" width="8.90" height="3.4" fill="#000" opacity="0.178"/>
<rect x="186.55" y="397.97" width="8.90" height="1.6" fill="#000" opacity="0.084"/>
<rect x="186.55" y="402.17" width="8.90" height="1.6" fill="#000" opacity="0.098"/>
<rect x="186.55" y="407.07" width="8.90" height="2.4" fill="#000" opacity="0.137"/>
<rect x="186.55" y="411.47" width="8.90" height="2.4" fill="#000" opacity="0.149"/>
<rect x="186.55" y="415.01" width="8.90" height="2.2" fill="#000" opacity="0.112"/>
<rect x="186.55" y="419.16" width="8.90" height="3.0" fill="#000" opacity="0.193"/>
<rect x="186.55" y="424.11" width="8.90" height="1.6" fill="#000" opacity="0.127"/>
<rect x="186.55" y="428.32" width="8.90" height="1.6" fill="#000" opacity="0.119"/>
<rect x="186.55" y="432.20" width="8.90" height="2.4" fill="#000" opacity="0.172"/>
<rect x="186.55" y="437.12" width="8.90" height="2.4" fill="#000" opacity="0.138"/>
<rect x="186.55" y="441.81" width="8.90" height="1.6" fill="#000" opacity="0.054"/>
<rect x="186.55" y="448.60" width="8.90" height="2.4" fill="#000" opacity="0.076"/>
<rect x="186.55" y="453.36" width="8.90" height="2.4" fill="#000" opacity="0.089"/>
<rect x="186.55" y="458.75" width="8.90" height="1.6" fill="#000" opacity="0.047"/>
<rect x="186.55" y="468.16" width="8.90" height="2.2" fill="#000" opacity="0.093"/>
<rect x="186.55" y="471.97" width="8.90" height="1.6" fill="#000" opacity="0.060"/>
</g>
<rect x="199.3" y="378" width="1.8" height="9" fill="#000" opacity="0.22"/>
<rect x="153.5" y="388" width="8.8" height="36" fill="#000" opacity="0.08"/>
<rect x="164.5" y="388" width="8.8" height="36" fill="#000" opacity="0.08"/>
<rect x="176" y="392" width="8.8" height="30" fill="#000" opacity="0.04"/>
<rect x="186.6" y="392" width="8.8" height="30" fill="#000" opacity="0.04"/>
</g>
<g filter="url(#bl2)">
<rect x="152.5" y="338.59999999999997" width="9.0" height="2.6" rx="1.3" fill="#000" opacity="0.6"/>
<rect x="163.5" y="338.3" width="9.5" height="2.6" rx="1.3" fill="#000" opacity="0.65"/>
<rect x="173.5" y="335.8" width="15.0" height="5.6" rx="2.8" fill="#000" opacity="1.0"/>
<rect x="186" y="336.5" width="13.5" height="3.6" rx="1.8" fill="#000" opacity="1.0"/>
</g>
<rect x="150.75" y="331.55" width="52.349999999999994" height="145.55" fill="none" stroke="#000" stroke-width="1.45"/>
<line x1="150.75" y1="345.6" x2="203.1" y2="345.6" stroke="#000" stroke-width="1.3"/>
</g>
<g>
<rect x="433.5" y="330.7" width="52.5" height="145.10000000000002" fill="#ededed"/>
<rect x="433.5" y="330.7" width="52.5" height="12.800000000000011" fill="#fafafa"/>
<g filter="url(#bl)">
<g transform="translate(443.2,343.5) skewX(0.130) translate(-443.2,-343.5)">
<rect x="438.7" y="349.5" width="9.0" height="124.30000000000001" fill="url(#lg)" opacity="0.062"/>
<rect x="438.90" y="348.50" width="8.60" height="1.6" fill="#000" opacity="0.059"/>
<rect x="438.90" y="352.66" width="8.60" height="4.8" fill="#000" opacity="0.297"/>
<rect x="438.90" y="360.64" width="8.60" height="1.6" fill="#000" opacity="0.072"/>
<rect x="438.90" y="365.56" width="8.60" height="1.6" fill="#000" opacity="0.107"/>
<rect x="438.90" y="370.10" width="8.60" height="3.4" fill="#000" opacity="0.199"/>
<rect x="438.90" y="376.07" width="8.60" height="1.6" fill="#000" opacity="0.082"/>
<rect x="438.90" y="381.27" width="8.60" height="1.6" fill="#000" opacity="0.097"/>
<rect x="438.90" y="385.78" width="8.60" height="1.6" fill="#000" opacity="0.087"/>
<rect x="438.90" y="389.11" width="8.60" height="3.4" fill="#000" opacity="0.248"/>
<rect x="438.90" y="395.63" width="8.60" height="1.6" fill="#000" opacity="0.104"/>
<rect x="438.90" y="400.35" width="8.60" height="1.6" fill="#000" opacity="0.115"/>
<rect x="438.90" y="405.17" width="8.60" height="2.4" fill="#000" opacity="0.185"/>
<rect x="438.90" y="409.12" width="8.60" height="2.4" fill="#000" opacity="0.161"/>
<rect x="438.90" y="413.40" width="8.60" height="2.2" fill="#000" opacity="0.143"/>
<rect x="438.90" y="417.41" width="8.60" height="3.0" fill="#000" opacity="0.273"/>
<rect x="438.90" y="422.21" width="8.60" height="1.6" fill="#000" opacity="0.168"/>
<rect x="438.90" y="426.38" width="8.60" height="1.6" fill="#000" opacity="0.144"/>
<rect x="438.90" y="430.38" width="8.60" height="2.4" fill="#000" opacity="0.201"/>
<rect x="438.90" y="435.14" width="8.60" height="2.4" fill="#000" opacity="0.132"/>
<rect x="438.90" y="439.72" width="8.60" height="1.6" fill="#000" opacity="0.057"/>
<rect x="438.90" y="446.96" width="8.60" height="2.4" fill="#000" opacity="0.101"/>
<rect x="438.90" y="451.66" width="8.60" height="2.4" fill="#000" opacity="0.096"/>
<rect x="438.90" y="457.14" width="8.60" height="1.6" fill="#000" opacity="0.060"/>
<rect x="438.90" y="466.14" width="8.60" height="2.2" fill="#000" opacity="0.116"/>
<rect x="438.90" y="470.29" width="8.60" height="1.6" fill="#000" opacity="0.070"/>
</g>
<g transform="translate(454.2,343.5) skewX(0.217) translate(-454.2,-343.5)">
<rect x="449.7" y="349.5" width="9.0" height="124.30000000000001" fill="url(#lg)" opacity="0.062"/>
<rect x="449.90" y="348.76" width="8.60" height="1.6" fill="#000" opacity="0.066"/>
<rect x="449.90" y="352.96" width="8.60" height="4.8" fill="#000" opacity="0.330"/>
<rect x="449.90" y="360.66" width="8.60" height="1.6" fill="#000" opacity="0.074"/>
<rect x="449.90" y="366.07" width="8.60" height="1.6" fill="#000" opacity="0.111"/>
<rect x="449.90" y="370.49" width="8.60" height="3.4" fill="#000" opacity="0.220"/>
<rect x="449.90" y="375.90" width="8.60" height="1.6" fill="#000" opacity="0.076"/>
<rect x="449.90" y="381.27" width="8.60" height="1.6" fill="#000" opacity="0.099"/>
<rect x="449.90" y="385.57" width="8.60" height="1.6" fill="#000" opacity="0.084"/>
<rect x="449.90" y="389.24" width="8.60" height="3.4" fill="#000" opacity="0.256"/>
<rect x="449.90" y="395.37" width="8.60" height="1.6" fill="#000" opacity="0.106"/>
<rect x="449.90" y="400.20" width="8.60" height="1.6" fill="#000" opacity="0.119"/>
<rect x="449.90" y="404.89" width="8.60" height="2.4" fill="#000" opacity="0.195"/>
<rect x="449.90" y="409.47" width="8.60" height="2.4" fill="#000" opacity="0.162"/>
<rect x="449.90" y="413.25" width="8.60" height="2.2" fill="#000" opacity="0.124"/>
<rect x="449.90" y="417.41" width="8.60" height="3.0" fill="#000" opacity="0.232"/>
<rect x="449.90" y="422.31" width="8.60" height="1.6" fill="#000" opacity="0.171"/>
<rect x="449.90" y="426.45" width="8.60" height="1.6" fill="#000" opacity="0.152"/>
<rect x="449.90" y="430.30" width="8.60" height="2.4" fill="#000" opacity="0.155"/>
<rect x="449.90" y="434.97" width="8.60" height="2.4" fill="#000" opacity="0.129"/>
<rect x="449.90" y="439.76" width="8.60" height="1.6" fill="#000" opacity="0.060"/>
<rect x="449.90" y="446.75" width="8.60" height="2.4" fill="#000" opacity="0.092"/>
<rect x="449.90" y="451.31" width="8.60" height="2.4" fill="#000" opacity="0.114"/>
<rect x="449.90" y="457.03" width="8.60" height="1.6" fill="#000" opacity="0.071"/>
<rect x="449.90" y="466.47" width="8.60" height="2.2" fill="#000" opacity="0.109"/>
<rect x="449.90" y="470.21" width="8.60" height="1.6" fill="#000" opacity="0.062"/>
</g>
<g transform="translate(465.2,343.5) skewX(0.433) translate(-465.2,-343.5)">
<rect x="460.7" y="349.5" width="9.0" height="124.30000000000001" fill="url(#lg)" opacity="0.062"/>
<rect x="460.90" y="348.74" width="8.60" height="1.6" fill="#000" opacity="0.060"/>
<rect x="460.90" y="352.78" width="8.60" height="4.8" fill="#000" opacity="0.179"/>
<rect x="460.90" y="360.82" width="8.60" height="1.6" fill="#000" opacity="0.083"/>
<rect x="460.90" y="365.81" width="8.60" height="1.6" fill="#000" opacity="0.104"/>
<rect x="460.90" y="370.09" width="8.60" height="3.4" fill="#000" opacity="0.203"/>
<rect x="460.90" y="376.06" width="8.60" height="1.6" fill="#000" opacity="0.083"/>
<rect x="460.90" y="381.10" width="8.60" height="1.6" fill="#000" opacity="0.083"/>
<rect x="460.90" y="385.65" width="8.60" height="1.6" fill="#000" opacity="0.100"/>
<rect x="460.90" y="388.74" width="8.60" height="3.4" fill="#000" opacity="0.231"/>
<rect x="460.90" y="395.70" width="8.60" height="1.6" fill="#000" opacity="0.084"/>
<rect x="460.90" y="400.33" width="8.60" height="1.6" fill="#000" opacity="0.131"/>
<rect x="460.90" y="405.12" width="8.60" height="2.4" fill="#000" opacity="0.172"/>
<rect x="460.90" y="409.37" width="8.60" height="2.4" fill="#000" opacity="0.201"/>
<rect x="460.90" y="412.89" width="8.60" height="2.2" fill="#000" opacity="0.125"/>
<rect x="460.90" y="417.38" width="8.60" height="3.0" fill="#000" opacity="0.279"/>
<rect x="460.90" y="421.93" width="8.60" height="1.6" fill="#000" opacity="0.147"/>
<rect x="460.90" y="426.50" width="8.60" height="1.6" fill="#000" opacity="0.125"/>
<rect x="460.90" y="430.33" width="8.60" height="2.4" fill="#000" opacity="0.168"/>
<rect x="460.90" y="434.83" width="8.60" height="2.4" fill="#000" opacity="0.155"/>
<rect x="460.90" y="439.82" width="8.60" height="1.6" fill="#000" opacity="0.060"/>
<rect x="460.90" y="446.85" width="8.60" height="2.4" fill="#000" opacity="0.088"/>
<rect x="460.90" y="451.62" width="8.60" height="2.4" fill="#000" opacity="0.110"/>
<rect x="460.90" y="457.03" width="8.60" height="1.6" fill="#000" opacity="0.057"/>
<rect x="460.90" y="466.42" width="8.60" height="2.2" fill="#000" opacity="0.104"/>
<rect x="460.90" y="470.05" width="8.60" height="1.6" fill="#000" opacity="0.061"/>
</g>
<g transform="translate(476,343.5) skewX(0.520) translate(-476,-343.5)">
<rect x="471.5" y="349.5" width="9.0" height="124.30000000000001" fill="url(#lg)" opacity="0.062"/>
<rect x="471.70" y="348.77" width="8.60" height="1.6" fill="#000" opacity="0.051"/>
<rect x="471.70" y="352.64" width="8.60" height="4.8" fill="#000" opacity="0.219"/>
<rect x="471.70" y="360.76" width="8.60" height="1.6" fill="#000" opacity="0.081"/>
<rect x="471.70" y="366.07" width="8.60" height="1.6" fill="#000" opacity="0.088"/>
<rect x="471.70" y="370.15" width="8.60" height="3.4" fill="#000" opacity="0.226"/>
<rect x="471.70" y="376.01" width="8.60" height="1.6" fill="#000" opacity="0.082"/>
<rect x="471.70" y="380.90" width="8.60" height="1.6" fill="#000" opacity="0.086"/>
<rect x="471.70" y="385.72" width="8.60" height="1.6" fill="#000" opacity="0.088"/>
<rect x="471.70" y="389.22" width="8.60" height="3.4" fill="#000" opacity="0.246"/>
<rect x="471.70" y="395.43" width="8.60" height="1.6" fill="#000" opacity="0.091"/>
<rect x="471.70" y="400.43" width="8.60" height="1.6" fill="#000" opacity="0.138"/>
<rect x="471.70" y="405.19" width="8.60" height="2.4" fill="#000" opacity="0.172"/>
<rect x="471.70" y="409.02" width="8.60" height="2.4" fill="#000" opacity="0.176"/>
<rect x="471.70" y="413.36" width="8.60" height="2.2" fill="#000" opacity="0.134"/>
<rect x="471.70" y="417.19" width="8.60" height="3.0" fill="#000" opacity="0.239"/>
<rect x="471.70" y="422.03" width="8.60" height="1.6" fill="#000" opacity="0.145"/>
<rect x="471.70" y="426.70" width="8.60" height="1.6" fill="#000" opacity="0.119"/>
<rect x="471.70" y="430.11" width="8.60" height="2.4" fill="#000" opacity="0.201"/>
<rect x="471.70" y="435.14" width="8.60" height="2.4" fill="#000" opacity="0.172"/>
<rect x="471.70" y="439.90" width="8.60" height="1.6" fill="#000" opacity="0.070"/>
<rect x="471.70" y="446.94" width="8.60" height="2.4" fill="#000" opacity="0.094"/>
<rect x="471.70" y="451.73" width="8.60" height="2.4" fill="#000" opacity="0.113"/>
<rect x="471.70" y="457.24" width="8.60" height="1.6" fill="#000" opacity="0.062"/>
<rect x="471.70" y="466.11" width="8.60" height="2.2" fill="#000" opacity="0.107"/>
<rect x="471.70" y="470.07" width="8.60" height="1.6" fill="#000" opacity="0.054"/>
</g>
<rect x="483.5" y="352" width="2" height="5" fill="#000" opacity="0.25"/>
</g>
<g filter="url(#bl2)">
<rect x="437.5" y="336.75" width="7.5" height="1.7" rx="0.85" fill="#000" opacity="0.5"/>
<rect x="448.5" y="336.3" width="7.5" height="1.6" rx="0.8" fill="#000" opacity="0.3"/>
<rect x="460" y="336.5" width="8.800000000000011" height="2.6" rx="1.3" fill="#000" opacity="1.0"/>
<rect x="472.3" y="336.15" width="8.699999999999989" height="2.5" rx="1.25" fill="#000" opacity="1.0"/>
</g>
<rect x="433.5" y="330.7" width="52.5" height="145.10000000000002" fill="none" stroke="#000" stroke-width="1.45"/>
<line x1="433.5" y1="343.5" x2="486" y2="343.5" stroke="#000" stroke-width="1.3"/>
</g>
<g>
<rect x="303.5" y="505.5" width="52.5" height="145.0" fill="#ededed"/>
<rect x="303.5" y="505.5" width="52.5" height="12.600000000000023" fill="#e4e4e4"/>
<g filter="url(#bl)">
<g transform="translate(311.7,518.1) skewX(0.000) translate(-311.7,-518.1)">
<rect x="306.9" y="524.1" width="9.6" height="124.39999999999998" fill="url(#lg)" opacity="0.056"/>
<rect x="307.10" y="525.88" width="9.20" height="1.6" fill="#000" opacity="0.059"/>
<rect x="307.10" y="529.82" width="9.20" height="4.8" fill="#000" opacity="0.294"/>
<rect x="307.10" y="537.16" width="9.20" height="1.6" fill="#000" opacity="0.092"/>
<rect x="307.10" y="542.74" width="9.20" height="1.6" fill="#000" opacity="0.121"/>
<rect x="307.10" y="546.81" width="9.20" height="3.4" fill="#000" opacity="0.225"/>
<rect x="307.10" y="552.00" width="9.20" height="1.6" fill="#000" opacity="0.088"/>
<rect x="307.10" y="556.84" width="9.20" height="1.6" fill="#000" opacity="0.098"/>
<rect x="307.10" y="561.29" width="9.20" height="1.6" fill="#000" opacity="0.125"/>
<rect x="307.10" y="564.81" width="9.20" height="3.4" fill="#000" opacity="0.278"/>
<rect x="307.10" y="571.13" width="9.20" height="1.6" fill="#000" opacity="0.101"/>
<rect x="307.10" y="575.27" width="9.20" height="1.6" fill="#000" opacity="0.157"/>
<rect x="307.10" y="580.19" width="9.20" height="2.4" fill="#000" opacity="0.227"/>
<rect x="307.10" y="584.52" width="9.20" height="2.4" fill="#000" opacity="0.187"/>
<rect x="307.10" y="588.29" width="9.20" height="2.2" fill="#000" opacity="0.172"/>
<rect x="307.10" y="592.34" width="9.20" height="3.0" fill="#000" opacity="0.252"/>
<rect x="307.10" y="597.12" width="9.20" height="1.6" fill="#000" opacity="0.149"/>
<rect x="307.10" y="601.77" width="9.20" height="1.6" fill="#000" opacity="0.167"/>
<rect x="307.10" y="605.50" width="9.20" height="2.4" fill="#000" opacity="0.190"/>
<rect x="307.10" y="610.22" width="9.20" height="2.4" fill="#000" opacity="0.175"/>
<rect x="307.10" y="615.24" width="9.20" height="1.6" fill="#000" opacity="0.078"/>
<rect x="307.10" y="621.77" width="9.20" height="2.4" fill="#000" opacity="0.114"/>
<rect x="307.10" y="626.72" width="9.20" height="2.4" fill="#000" opacity="0.114"/>
<rect x="307.10" y="632.02" width="9.20" height="1.6" fill="#000" opacity="0.067"/>
<rect x="307.10" y="641.51" width="9.20" height="2.2" fill="#000" opacity="0.111"/>
<rect x="307.10" y="645.06" width="9.20" height="1.6" fill="#000" opacity="0.073"/>
</g>
<g transform="translate(323.3,518.1) skewX(0.000) translate(-323.3,-518.1)">
<rect x="318.5" y="524.1" width="9.6" height="124.39999999999998" fill="url(#lg)" opacity="0.056"/>
<rect x="318.70" y="525.91" width="9.20" height="1.6" fill="#000" opacity="0.067"/>
<rect x="318.70" y="529.86" width="9.20" height="4.8" fill="#000" opacity="0.313"/>
<rect x="318.70" y="537.72" width="9.20" height="1.6" fill="#000" opacity="0.086"/>
<rect x="318.70" y="542.43" width="9.20" height="1.6" fill="#000" opacity="0.101"/>
<rect x="318.70" y="546.73" width="9.20" height="3.4" fill="#000" opacity="0.229"/>
<rect x="318.70" y="551.89" width="9.20" height="1.6" fill="#000" opacity="0.101"/>
<rect x="318.70" y="556.93" width="9.20" height="1.6" fill="#000" opacity="0.113"/>
<rect x="318.70" y="561.71" width="9.20" height="1.6" fill="#000" opacity="0.097"/>
<rect x="318.70" y="564.35" width="9.20" height="3.4" fill="#000" opacity="0.234"/>
<rect x="318.70" y="571.11" width="9.20" height="1.6" fill="#000" opacity="0.115"/>
<rect x="318.70" y="575.22" width="9.20" height="1.6" fill="#000" opacity="0.143"/>
<rect x="318.70" y="579.86" width="9.20" height="2.4" fill="#000" opacity="0.202"/>
<rect x="318.70" y="584.02" width="9.20" height="2.4" fill="#000" opacity="0.226"/>
<rect x="318.70" y="588.47" width="9.20" height="2.2" fill="#000" opacity="0.186"/>
<rect x="318.70" y="592.47" width="9.20" height="3.0" fill="#000" opacity="0.317"/>
<rect x="318.70" y="596.85" width="9.20" height="1.6" fill="#000" opacity="0.159"/>
<rect x="318.70" y="601.79" width="9.20" height="1.6" fill="#000" opacity="0.163"/>
<rect x="318.70" y="605.42" width="9.20" height="2.4" fill="#000" opacity="0.229"/>
<rect x="318.70" y="610.05" width="9.20" height="2.4" fill="#000" opacity="0.188"/>
<rect x="318.70" y="614.89" width="9.20" height="1.6" fill="#000" opacity="0.064"/>
<rect x="318.70" y="621.73" width="9.20" height="2.4" fill="#000" opacity="0.104"/>
<rect x="318.70" y="626.59" width="9.20" height="2.4" fill="#000" opacity="0.133"/>
<rect x="318.70" y="632.12" width="9.20" height="1.6" fill="#000" opacity="0.060"/>
<rect x="318.70" y="641.05" width="9.20" height="2.2" fill="#000" opacity="0.116"/>
<rect x="318.70" y="645.50" width="9.20" height="1.6" fill="#000" opacity="0.068"/>
</g>
<g transform="translate(335.1,518.1) skewX(0.000) translate(-335.1,-518.1)">
<rect x="330.3" y="524.1" width="9.6" height="124.39999999999998" fill="url(#lg)" opacity="0.056"/>
<rect x="330.50" y="525.91" width="9.20" height="1.6" fill="#000" opacity="0.058"/>
<rect x="330.50" y="530.17" width="9.20" height="4.8" fill="#000" opacity="0.192"/>
<rect x="330.50" y="537.25" width="9.20" height="1.6" fill="#000" opacity="0.082"/>
<rect x="330.50" y="542.22" width="9.20" height="1.6" fill="#000" opacity="0.100"/>
<rect x="330.50" y="546.75" width="9.20" height="3.4" fill="#000" opacity="0.220"/>
<rect x="330.50" y="551.70" width="9.20" height="1.6" fill="#000" opacity="0.094"/>
<rect x="330.50" y="556.88" width="9.20" height="1.6" fill="#000" opacity="0.127"/>
<rect x="330.50" y="561.24" width="9.20" height="1.6" fill="#000" opacity="0.112"/>
<rect x="330.50" y="564.78" width="9.20" height="3.4" fill="#000" opacity="0.247"/>
<rect x="330.50" y="571.24" width="9.20" height="1.6" fill="#000" opacity="0.110"/>
<rect x="330.50" y="575.22" width="9.20" height="1.6" fill="#000" opacity="0.147"/>
<rect x="330.50" y="579.78" width="9.20" height="2.4" fill="#000" opacity="0.200"/>
<rect x="330.50" y="584.14" width="9.20" height="2.4" fill="#000" opacity="0.238"/>
<rect x="330.50" y="588.43" width="9.20" height="2.2" fill="#000" opacity="0.164"/>
<rect x="330.50" y="592.05" width="9.20" height="3.0" fill="#000" opacity="0.258"/>
<rect x="330.50" y="596.98" width="9.20" height="1.6" fill="#000" opacity="0.155"/>
<rect x="330.50" y="601.35" width="9.20" height="1.6" fill="#000" opacity="0.168"/>
<rect x="330.50" y="605.26" width="9.20" height="2.4" fill="#000" opacity="0.175"/>
<rect x="330.50" y="610.23" width="9.20" height="2.4" fill="#000" opacity="0.175"/>
<rect x="330.50" y="615.31" width="9.20" height="1.6" fill="#000" opacity="0.069"/>
<rect x="330.50" y="622.00" width="9.20" height="2.4" fill="#000" opacity="0.122"/>
<rect x="330.50" y="626.83" width="9.20" height="2.4" fill="#000" opacity="0.125"/>
<rect x="330.50" y="632.22" width="9.20" height="1.6" fill="#000" opacity="0.062"/>
<rect x="330.50" y="641.15" width="9.20" height="2.2" fill="#000" opacity="0.143"/>
<rect x="330.50" y="645.57" width="9.20" height="1.6" fill="#000" opacity="0.080"/>
</g>
<g transform="translate(346.5,518.1) skewX(0.000) translate(-346.5,-518.1)">
<rect x="341.7" y="524.1" width="9.6" height="124.39999999999998" fill="url(#lg)" opacity="0.056"/>
<rect x="341.90" y="525.94" width="9.20" height="1.6" fill="#000" opacity="0.070"/>
<rect x="341.90" y="530.06" width="9.20" height="4.8" fill="#000" opacity="0.342"/>
<rect x="341.90" y="537.61" width="9.20" height="1.6" fill="#000" opacity="0.095"/>
<rect x="341.90" y="542.58" width="9.20" height="1.6" fill="#000" opacity="0.117"/>
<rect x="341.90" y="546.51" width="9.20" height="3.4" fill="#000" opacity="0.277"/>
<rect x="341.90" y="552.25" width="9.20" height="1.6" fill="#000" opacity="0.082"/>
<rect x="341.90" y="557.32" width="9.20" height="1.6" fill="#000" opacity="0.126"/>
<rect x="341.90" y="561.56" width="9.20" height="1.6" fill="#000" opacity="0.096"/>
<rect x="341.90" y="564.85" width="9.20" height="3.4" fill="#000" opacity="0.226"/>
<rect x="341.90" y="571.23" width="9.20" height="1.6" fill="#000" opacity="0.116"/>
<rect x="341.90" y="575.12" width="9.20" height="1.6" fill="#000" opacity="0.136"/>
<rect x="341.90" y="580.14" width="9.20" height="2.4" fill="#000" opacity="0.209"/>
<rect x="341.90" y="584.44" width="9.20" height="2.4" fill="#000" opacity="0.241"/>
<rect x="341.90" y="588.06" width="9.20" height="2.2" fill="#000" opacity="0.140"/>
<rect x="341.90" y="592.59" width="9.20" height="3.0" fill="#000" opacity="0.238"/>
<rect x="341.90" y="597.36" width="9.20" height="1.6" fill="#000" opacity="0.150"/>
<rect x="341.90" y="601.69" width="9.20" height="1.6" fill="#000" opacity="0.164"/>
<rect x="341.90" y="605.70" width="9.20" height="2.4" fill="#000" opacity="0.206"/>
<rect x="341.90" y="610.20" width="9.20" height="2.4" fill="#000" opacity="0.156"/>
<rect x="341.90" y="615.11" width="9.20" height="1.6" fill="#000" opacity="0.067"/>
<rect x="341.90" y="622.00" width="9.20" height="2.4" fill="#000" opacity="0.126"/>
<rect x="341.90" y="626.64" width="9.20" height="2.4" fill="#000" opacity="0.118"/>
<rect x="341.90" y="631.94" width="9.20" height="1.6" fill="#000" opacity="0.061"/>
<rect x="341.90" y="641.38" width="9.20" height="2.2" fill="#000" opacity="0.128"/>
<rect x="341.90" y="645.55" width="9.20" height="1.6" fill="#000" opacity="0.073"/>
</g>
<rect x="331.5" y="521" width="7.5" height="1.8" fill="#000" opacity="0.3"/>
</g>
<g filter="url(#bl2)">
<rect x="306.4" y="511.4" width="9.600000000000023" height="2.2" rx="1.1" fill="#000" opacity="1.0"/>
<rect x="318.7" y="511.4" width="8.900000000000034" height="2.2" rx="1.1" fill="#000" opacity="1.0"/>
<rect x="331.5" y="511.99999999999994" width="7.5" height="1.6" rx="0.8" fill="#000" opacity="0.5"/>
<rect x="343.2" y="511.5" width="8.800000000000011" height="2.2" rx="1.1" fill="#000" opacity="1.0"/>
</g>
<rect x="303.5" y="505.5" width="52.5" height="145.0" fill="none" stroke="#000" stroke-width="1.45"/>
<line x1="303.5" y1="518.1" x2="356" y2="518.1" stroke="#000" stroke-width="1.3"/>
</g>
<g>
<rect x="586.5" y="505" width="52.5" height="145.5" fill="#ededed"/>
<rect x="586.5" y="505" width="52.5" height="12.600000000000023" fill="#dadada"/>
<g filter="url(#bl)">
<g transform="translate(594.5,517.6) skewX(0.000) translate(-594.5,-517.6)">
<rect x="589.7" y="523.6" width="9.6" height="124.89999999999998" fill="url(#lg)" opacity="0.056"/>
<rect x="589.90" y="525.65" width="9.20" height="1.6" fill="#000" opacity="0.071"/>
<rect x="589.90" y="529.61" width="9.20" height="4.8" fill="#000" opacity="0.372"/>
<rect x="589.90" y="537.14" width="9.20" height="1.6" fill="#000" opacity="0.106"/>
<rect x="589.90" y="541.80" width="9.20" height="1.6" fill="#000" opacity="0.110"/>
<rect x="589.90" y="546.53" width="9.20" height="3.4" fill="#000" opacity="0.257"/>
<rect x="589.90" y="551.85" width="9.20" height="1.6" fill="#000" opacity="0.083"/>
<rect x="589.90" y="556.67" width="9.20" height="1.6" fill="#000" opacity="0.102"/>
<rect x="589.90" y="561.16" width="9.20" height="1.6" fill="#000" opacity="0.113"/>
<rect x="589.90" y="564.00" width="9.20" height="3.4" fill="#000" opacity="0.233"/>
<rect x="589.90" y="570.52" width="9.20" height="1.6" fill="#000" opacity="0.125"/>
<rect x="589.90" y="575.26" width="9.20" height="1.6" fill="#000" opacity="0.135"/>
<rect x="589.90" y="579.97" width="9.20" height="2.4" fill="#000" opacity="0.183"/>
<rect x="589.90" y="584.12" width="9.20" height="2.4" fill="#000" opacity="0.189"/>
<rect x="589.90" y="587.70" width="9.20" height="2.2" fill="#000" opacity="0.182"/>
<rect x="589.90" y="591.94" width="9.20" height="3.0" fill="#000" opacity="0.255"/>
<rect x="589.90" y="597.23" width="9.20" height="1.6" fill="#000" opacity="0.189"/>
<rect x="589.90" y="601.20" width="9.20" height="1.6" fill="#000" opacity="0.172"/>
<rect x="589.90" y="605.33" width="9.20" height="2.4" fill="#000" opacity="0.213"/>
<rect x="589.90" y="609.65" width="9.20" height="2.4" fill="#000" opacity="0.194"/>
<rect x="589.90" y="614.99" width="9.20" height="1.6" fill="#000" opacity="0.081"/>
<rect x="589.90" y="621.89" width="9.20" height="2.4" fill="#000" opacity="0.110"/>
<rect x="589.90" y="626.49" width="9.20" height="2.4" fill="#000" opacity="0.105"/>
<rect x="589.90" y="631.94" width="9.20" height="1.6" fill="#000" opacity="0.061"/>
<rect x="589.90" y="641.17" width="9.20" height="2.2" fill="#000" opacity="0.133"/>
<rect x="589.90" y="645.02" width="9.20" height="1.6" fill="#000" opacity="0.075"/>
</g>
<g transform="translate(606.6,517.6) skewX(0.000) translate(-606.6,-517.6)">
<rect x="601.8000000000001" y="523.6" width="9.6" height="124.89999999999998" fill="url(#lg)" opacity="0.056"/>
<rect x="602.00" y="525.47" width="9.20" height="1.6" fill="#000" opacity="0.063"/>
<rect x="602.00" y="529.62" width="9.20" height="4.8" fill="#000" opacity="0.326"/>
<rect x="602.00" y="536.89" width="9.20" height="1.6" fill="#000" opacity="0.094"/>
<rect x="602.00" y="542.20" width="9.20" height="1.6" fill="#000" opacity="0.096"/>
<rect x="602.00" y="546.55" width="9.20" height="3.4" fill="#000" opacity="0.211"/>
<rect x="602.00" y="551.75" width="9.20" height="1.6" fill="#000" opacity="0.104"/>
<rect x="602.00" y="556.40" width="9.20" height="1.6" fill="#000" opacity="0.120"/>
<rect x="602.00" y="561.05" width="9.20" height="1.6" fill="#000" opacity="0.113"/>
<rect x="602.00" y="564.00" width="9.20" height="3.4" fill="#000" opacity="0.220"/>
<rect x="602.00" y="570.46" width="9.20" height="1.6" fill="#000" opacity="0.126"/>
<rect x="602.00" y="574.92" width="9.20" height="1.6" fill="#000" opacity="0.162"/>
<rect x="602.00" y="580.05" width="9.20" height="2.4" fill="#000" opacity="0.232"/>
<rect x="602.00" y="583.95" width="9.20" height="2.4" fill="#000" opacity="0.204"/>
<rect x="602.00" y="588.02" width="9.20" height="2.2" fill="#000" opacity="0.178"/>
<rect x="602.00" y="591.88" width="9.20" height="3.0" fill="#000" opacity="0.300"/>
<rect x="602.00" y="597.12" width="9.20" height="1.6" fill="#000" opacity="0.188"/>
<rect x="602.00" y="601.05" width="9.20" height="1.6" fill="#000" opacity="0.171"/>
<rect x="602.00" y="605.06" width="9.20" height="2.4" fill="#000" opacity="0.193"/>
<rect x="602.00" y="609.90" width="9.20" height="2.4" fill="#000" opacity="0.193"/>
<rect x="602.00" y="614.78" width="9.20" height="1.6" fill="#000" opacity="0.080"/>
<rect x="602.00" y="621.68" width="9.20" height="2.4" fill="#000" opacity="0.110"/>
<rect x="602.00" y="626.46" width="9.20" height="2.4" fill="#000" opacity="0.106"/>
<rect x="602.00" y="631.90" width="9.20" height="1.6" fill="#000" opacity="0.063"/>
<rect x="602.00" y="641.41" width="9.20" height="2.2" fill="#000" opacity="0.148"/>
<rect x="602.00" y="645.11" width="9.20" height="1.6" fill="#000" opacity="0.061"/>
</g>
<g transform="translate(618.7,517.6) skewX(0.000) translate(-618.7,-517.6)">
<rect x="613.9000000000001" y="523.6" width="9.6" height="124.89999999999998" fill="url(#lg)" opacity="0.056"/>
<rect x="614.10" y="525.86" width="9.20" height="1.6" fill="#000" opacity="0.067"/>
<rect x="614.10" y="529.38" width="9.20" height="4.8" fill="#000" opacity="0.151"/>
<rect x="614.10" y="537.06" width="9.20" height="1.6" fill="#000" opacity="0.104"/>
<rect x="614.10" y="542.05" width="9.20" height="1.6" fill="#000" opacity="0.108"/>
<rect x="614.10" y="545.99" width="9.20" height="3.4" fill="#000" opacity="0.277"/>
<rect x="614.10" y="551.32" width="9.20" height="1.6" fill="#000" opacity="0.094"/>
<rect x="614.10" y="556.89" width="9.20" height="1.6" fill="#000" opacity="0.098"/>
<rect x="614.10" y="561.27" width="9.20" height="1.6" fill="#000" opacity="0.126"/>
<rect x="614.10" y="564.37" width="9.20" height="3.4" fill="#000" opacity="0.276"/>
<rect x="614.10" y="570.42" width="9.20" height="1.6" fill="#000" opacity="0.109"/>
<rect x="614.10" y="574.89" width="9.20" height="1.6" fill="#000" opacity="0.166"/>
<rect x="614.10" y="579.67" width="9.20" height="2.4" fill="#000" opacity="0.202"/>
<rect x="614.10" y="584.35" width="9.20" height="2.4" fill="#000" opacity="0.236"/>
<rect x="614.10" y="588.29" width="9.20" height="2.2" fill="#000" opacity="0.162"/>
<rect x="614.10" y="592.11" width="9.20" height="3.0" fill="#000" opacity="0.298"/>
<rect x="614.10" y="596.93" width="9.20" height="1.6" fill="#000" opacity="0.159"/>
<rect x="614.10" y="601.27" width="9.20" height="1.6" fill="#000" opacity="0.135"/>
<rect x="614.10" y="605.24" width="9.20" height="2.4" fill="#000" opacity="0.232"/>
<rect x="614.10" y="610.10" width="9.20" height="2.4" fill="#000" opacity="0.178"/>
<rect x="614.10" y="614.88" width="9.20" height="1.6" fill="#000" opacity="0.067"/>
<rect x="614.10" y="621.41" width="9.20" height="2.4" fill="#000" opacity="0.109"/>
<rect x="614.10" y="626.74" width="9.20" height="2.4" fill="#000" opacity="0.130"/>
<rect x="614.10" y="632.07" width="9.20" height="1.6" fill="#000" opacity="0.077"/>
<rect x="614.10" y="641.46" width="9.20" height="2.2" fill="#000" opacity="0.136"/>
<rect x="614.10" y="645.41" width="9.20" height="1.6" fill="#000" opacity="0.076"/>
</g>
<g transform="translate(631.1,517.6) skewX(0.000) translate(-631.1,-517.6)">
<rect x="626.3000000000001" y="523.6" width="9.6" height="124.89999999999998" fill="url(#lg)" opacity="0.056"/>
<rect x="626.50" y="525.49" width="9.20" height="1.6" fill="#000" opacity="0.070"/>
<rect x="626.50" y="529.30" width="9.20" height="4.8" fill="#000" opacity="0.327"/>
<rect x="626.50" y="537.16" width="9.20" height="1.6" fill="#000" opacity="0.100"/>
<rect x="626.50" y="541.96" width="9.20" height="1.6" fill="#000" opacity="0.125"/>
<rect x="626.50" y="546.35" width="9.20" height="3.4" fill="#000" opacity="0.252"/>
<rect x="626.50" y="551.31" width="9.20" height="1.6" fill="#000" opacity="0.096"/>
<rect x="626.50" y="556.54" width="9.20" height="1.6" fill="#000" opacity="0.116"/>
<rect x="626.50" y="561.11" width="9.20" height="1.6" fill="#000" opacity="0.121"/>
<rect x="626.50" y="564.38" width="9.20" height="3.4" fill="#000" opacity="0.277"/>
<rect x="626.50" y="570.56" width="9.20" height="1.6" fill="#000" opacity="0.115"/>
<rect x="626.50" y="575.24" width="9.20" height="1.6" fill="#000" opacity="0.166"/>
<rect x="626.50" y="579.70" width="9.20" height="2.4" fill="#000" opacity="0.226"/>
<rect x="626.50" y="584.27" width="9.20" height="2.4" fill="#000" opacity="0.225"/>
<rect x="626.50" y="588.29" width="9.20" height="2.2" fill="#000" opacity="0.186"/>
<rect x="626.50" y="592.13" width="9.20" height="3.0" fill="#000" opacity="0.281"/>
<rect x="626.50" y="596.74" width="9.20" height="1.6" fill="#000" opacity="0.187"/>
<rect x="626.50" y="601.59" width="9.20" height="1.6" fill="#000" opacity="0.150"/>
<rect x="626.50" y="605.42" width="9.20" height="2.4" fill="#000" opacity="0.216"/>
<rect x="626.50" y="609.97" width="9.20" height="2.4" fill="#000" opacity="0.155"/>
<rect x="626.50" y="615.05" width="9.20" height="1.6" fill="#000" opacity="0.072"/>
<rect x="626.50" y="621.76" width="9.20" height="2.4" fill="#000" opacity="0.114"/>
<rect x="626.50" y="626.65" width="9.20" height="2.4" fill="#000" opacity="0.126"/>
<rect x="626.50" y="632.24" width="9.20" height="1.6" fill="#000" opacity="0.075"/>
<rect x="626.50" y="641.01" width="9.20" height="2.2" fill="#000" opacity="0.115"/>
<rect x="626.50" y="645.28" width="9.20" height="1.6" fill="#000" opacity="0.074"/>
</g>
<rect x="615" y="520" width="7.5" height="1.6" fill="#000" opacity="0.3"/>
</g>
<g filter="url(#bl2)">
<rect x="589.6" y="511.15000000000003" width="9.600000000000023" height="2.1" rx="1.05" fill="#000" opacity="1.0"/>
<rect x="602.2" y="511.30000000000007" width="9.399999999999977" height="1.8" rx="0.9" fill="#000" opacity="1.0"/>
<rect x="614.5" y="510.55" width="10.100000000000023" height="3.1" rx="1.55" fill="#000" opacity="1.0"/>
<rect x="626.7" y="510.75" width="10.099999999999909" height="2.7" rx="1.35" fill="#000" opacity="1.0"/>
</g>
<rect x="586.5" y="505" width="52.5" height="145.5" fill="none" stroke="#000" stroke-width="1.45"/>
<line x1="586.5" y1="517.6" x2="639" y2="517.6" stroke="#000" stroke-width="1.3"/>
</g>
</g>
<text x="344.00" y="13" font-size="11.91" font-weight="bold" stroke="none">WT</text>
<text x="396.29" y="13" font-size="11.77" font-weight="bold" stroke="none">KO</text>
<text x="1.66" y="42.5" font-size="16.40" textLength="12.21" lengthAdjust="spacingAndGlyphs" font-weight="bold" stroke="none">A</text>
<text x="0.48" y="156.5" font-size="16.40" textLength="12.23" lengthAdjust="spacingAndGlyphs" font-weight="bold" stroke="none">B</text>
<text x="152.80" y="156.5" font-size="16.40" textLength="12.58" lengthAdjust="spacingAndGlyphs" font-weight="bold" stroke="none">C</text>
<text x="308.95" y="156.5" font-size="16.40" textLength="12.61" lengthAdjust="spacingAndGlyphs" font-weight="bold" stroke="none">D</text>
<text x="461.05" y="156.5" font-size="16.40" textLength="10.53" lengthAdjust="spacingAndGlyphs" font-weight="bold" stroke="none">E</text>
<text x="0.96" y="333" font-size="16.40" textLength="10.57" lengthAdjust="spacingAndGlyphs" font-weight="bold" stroke="none">F</text>
<text x="282.29" y="332" font-size="16.40" textLength="13.73" lengthAdjust="spacingAndGlyphs" font-weight="bold" stroke="none">G</text>
<text x="564.98" y="332" font-size="16.40" textLength="12.34" lengthAdjust="spacingAndGlyphs" font-weight="bold" stroke="none">H</text>
<text x="3.00" y="507" font-size="16.40" textLength="5.56" lengthAdjust="spacingAndGlyphs" font-weight="bold" stroke="none">I</text>
<text x="154.82" y="507" font-size="16.40" textLength="9.85" lengthAdjust="spacingAndGlyphs" font-weight="bold" stroke="none">J</text>
<text x="436.50" y="506.5" font-size="16.40" textLength="12.04" lengthAdjust="spacingAndGlyphs" font-weight="bold" stroke="none">K</text>
<text x="119.77" y="60" font-size="12.20" textLength="24.80" lengthAdjust="spacingAndGlyphs">TDO</text>
<text x="47.78" y="84.2" font-size="12.20" textLength="55.85" lengthAdjust="spacingAndGlyphs">Tryptophan</text>
<text x="164.14" y="84.3" font-size="12.20" textLength="94.54" lengthAdjust="spacingAndGlyphs" font-style="italic">Formylkynurenine</text>
<text x="340.34" y="40.5" font-size="12.20" textLength="34.03" lengthAdjust="spacingAndGlyphs">NADH</text>
<text x="342.81" y="84" font-size="11.57" font-weight="bold" stroke="none">NAD</text>
<text x="457.64" y="84.3" font-size="12.20" textLength="66.29" lengthAdjust="spacingAndGlyphs" font-style="italic">Nicotinamde</text>
<text x="581.76" y="84.3" font-size="12.20" textLength="109.16" lengthAdjust="spacingAndGlyphs" font-style="italic">1-methylnicotinamde</text>
<text x="496.52" y="40.5" font-size="12.20" textLength="25.85" lengthAdjust="spacingAndGlyphs">SAM</text>
<text x="577.53" y="40.5" font-size="12.20" textLength="24.33" lengthAdjust="spacingAndGlyphs">SAH</text>
<text x="534.41" y="60" font-size="12.20" textLength="32.02" lengthAdjust="spacingAndGlyphs">NNMT</text>
<text x="358.53" y="125.5" font-size="12.20" textLength="7.50" lengthAdjust="spacingAndGlyphs" font-style="italic">X</text>
<text x="458.74" y="125.2" font-size="12.20" textLength="77.69" lengthAdjust="spacingAndGlyphs" font-style="italic">X-ADP-Ribose</text>
<text x="393.56" y="123.5" font-size="12.20" textLength="37.68" lengthAdjust="spacingAndGlyphs">PARP1</text>
<text x="82.35" y="156.1" font-size="12.20" textLength="24.94" lengthAdjust="spacingAndGlyphs">NAD</text>
<text x="234.35" y="155.5" font-size="12.20" textLength="33.50" lengthAdjust="spacingAndGlyphs">NADH</text>
<text x="373.12" y="155.5" font-size="12.20" textLength="23.35" lengthAdjust="spacingAndGlyphs">NAD</text>
<text x="400.50" y="155.5" font-size="12.20" textLength="37.88" lengthAdjust="spacingAndGlyphs">/NADH</text>
<text x="541.60" y="153" font-size="12.20" textLength="32.64" lengthAdjust="spacingAndGlyphs">NNMT</text>
<text x="80.00" y="330.5" font-size="12.20" textLength="36.20" lengthAdjust="spacingAndGlyphs">yH2AX</text>
<text x="361.05" y="328.75" font-size="12.20" textLength="38.26" lengthAdjust="spacingAndGlyphs">PARP1</text>
<text x="628.50" y="330.5" font-size="12.20" textLength="65.43" lengthAdjust="spacingAndGlyphs">ADP-Ribose</text>
<text x="68.78" y="504.3" font-size="12.20" textLength="55.85" lengthAdjust="spacingAndGlyphs">Tryptophan</text>
<text x="238.77" y="503.75" font-size="12.20" textLength="24.80" lengthAdjust="spacingAndGlyphs">TDO</text>
<text x="523.69" y="503" font-size="12.20" textLength="19.82" lengthAdjust="spacingAndGlyphs">URI</text>
<text x="617.00" y="151.8" font-size="11.40" textLength="17.23" lengthAdjust="spacingAndGlyphs">WT</text>
<line x1="616.7" y1="153.60000000000002" x2="634.3" y2="153.60000000000002" stroke="#000" stroke-width="0.9"/>
<text x="641.77" y="151.8" font-size="11.40" textLength="16.79" lengthAdjust="spacingAndGlyphs">KO</text>
<line x1="642.4000000000001" y1="153.60000000000002" x2="658.3" y2="153.60000000000002" stroke="#000" stroke-width="0.9"/>
<text x="668.18" y="165.2" font-size="10.70" textLength="29.43" lengthAdjust="spacingAndGlyphs">NNMT</text>
<text x="669.58" y="235.1" font-size="11.40" textLength="60.33" lengthAdjust="spacingAndGlyphs">Total Protein</text>
<text x="156.00" y="328.9" font-size="11.40" textLength="17.23" lengthAdjust="spacingAndGlyphs">WT</text>
<line x1="155.7" y1="330.7" x2="173.3" y2="330.7" stroke="#000" stroke-width="0.9"/>
<text x="181.06" y="328.9" font-size="11.40" textLength="17.00" lengthAdjust="spacingAndGlyphs">KO</text>
<line x1="181.7" y1="330.7" x2="197.8" y2="330.7" stroke="#000" stroke-width="0.9"/>
<text x="208.00" y="341" font-size="10.69" textLength="31.67" lengthAdjust="spacingAndGlyphs">yH2AX</text>
<text x="208.78" y="411" font-size="11.49" textLength="60.83" lengthAdjust="spacingAndGlyphs">Total Protein</text>
<text x="438.75" y="327.5" font-size="11.40" textLength="17.74" lengthAdjust="spacingAndGlyphs">WT</text>
<line x1="438.45" y1="329.3" x2="456.55" y2="329.3" stroke="#000" stroke-width="0.9"/>
<text x="464.09" y="327.5" font-size="11.40" textLength="16.46" lengthAdjust="spacingAndGlyphs">KO</text>
<line x1="464.7" y1="329.3" x2="480.3" y2="329.3" stroke="#000" stroke-width="0.9"/>
<text x="490.34" y="339.25" font-size="11.27" textLength="34.40" lengthAdjust="spacingAndGlyphs">PARP1</text>
<text x="491.78" y="409.5" font-size="11.49" textLength="60.83" lengthAdjust="spacingAndGlyphs">Total Protein</text>
<text x="308.75" y="503.75" font-size="11.40" textLength="17.48" lengthAdjust="spacingAndGlyphs">WT</text>
<line x1="308.45" y1="505.55" x2="326.3" y2="505.55" stroke="#000" stroke-width="0.9"/>
<text x="334.30" y="503.75" font-size="11.40" textLength="16.24" lengthAdjust="spacingAndGlyphs">KO</text>
<line x1="334.9" y1="505.55" x2="350.3" y2="505.55" stroke="#000" stroke-width="0.9"/>
<text x="361.79" y="516" font-size="11.18" textLength="22.47" lengthAdjust="spacingAndGlyphs">TDO</text>
<text x="362.28" y="585.75" font-size="11.35" textLength="60.07" lengthAdjust="spacingAndGlyphs">Total Protein</text>
<text x="591.75" y="501.75" font-size="11.40" textLength="17.23" lengthAdjust="spacingAndGlyphs">WT</text>
<line x1="591.45" y1="503.55" x2="609.05" y2="503.55" stroke="#000" stroke-width="0.9"/>
<text x="616.59" y="501.75" font-size="11.40" textLength="16.46" lengthAdjust="spacingAndGlyphs">KO</text>
<line x1="617.2" y1="503.55" x2="632.8" y2="503.55" stroke="#000" stroke-width="0.9"/>
<text x="644.25" y="515" font-size="11.24" textLength="18.44" lengthAdjust="spacingAndGlyphs">URI</text>
<text x="645.53" y="584.5" font-size="11.44" textLength="60.58" lengthAdjust="spacingAndGlyphs">Total Protein</text>
<text transform="translate(16,254.5) rotate(-90)" font-size="12.10" font-style="italic">nmol<tspan font-size="15.5" dy="0.9">•</tspan><tspan dy="-0.9">g</tspan><tspan font-size="6.8" dy="-4.6">-1</tspan></text>
<text transform="translate(175.2,254.5) rotate(-90)" font-size="12.10" font-style="italic">nmol<tspan font-size="15.5" dy="0.9">•</tspan><tspan dy="-0.9">g</tspan><tspan font-size="6.8" dy="-4.6">-1</tspan></text>
<text transform="translate(329.5,269) rotate(-90)" font-size="11.84" font-style="italic">Arbitrary Units</text>
<text transform="translate(481.5,269) rotate(-90)" font-size="11.68" font-style="italic">Arbitrary Units</text>
<text transform="translate(22,445) rotate(-90)" font-size="11.68" font-style="italic">Arbitrary Units</text>
<text transform="translate(304,443.75) rotate(-90)" font-size="11.64" font-style="italic">Arbitrary Units</text>
<text transform="translate(586.3,429) rotate(-90)" font-size="12.10" font-style="italic">nmol<tspan font-size="15.5" dy="0.9">•</tspan><tspan dy="-0.9">g</tspan><tspan font-size="6.8" dy="-4.6">-1</tspan></text>
<text transform="translate(19.3,605.2) rotate(-90)" font-size="12.10" font-style="italic">nmol<tspan font-size="15.5" dy="0.9">•</tspan><tspan dy="-0.9">g</tspan><tspan font-size="6.8" dy="-4.6">-1</tspan></text>
<text transform="translate(174,619.5) rotate(-90)" font-size="11.68" font-style="italic">Arbitrary Units</text>
<text transform="translate(457.5,618.75) rotate(-90)" font-size="11.56" font-style="italic">Arbitrary Units</text>
</svg>
</body></html>
